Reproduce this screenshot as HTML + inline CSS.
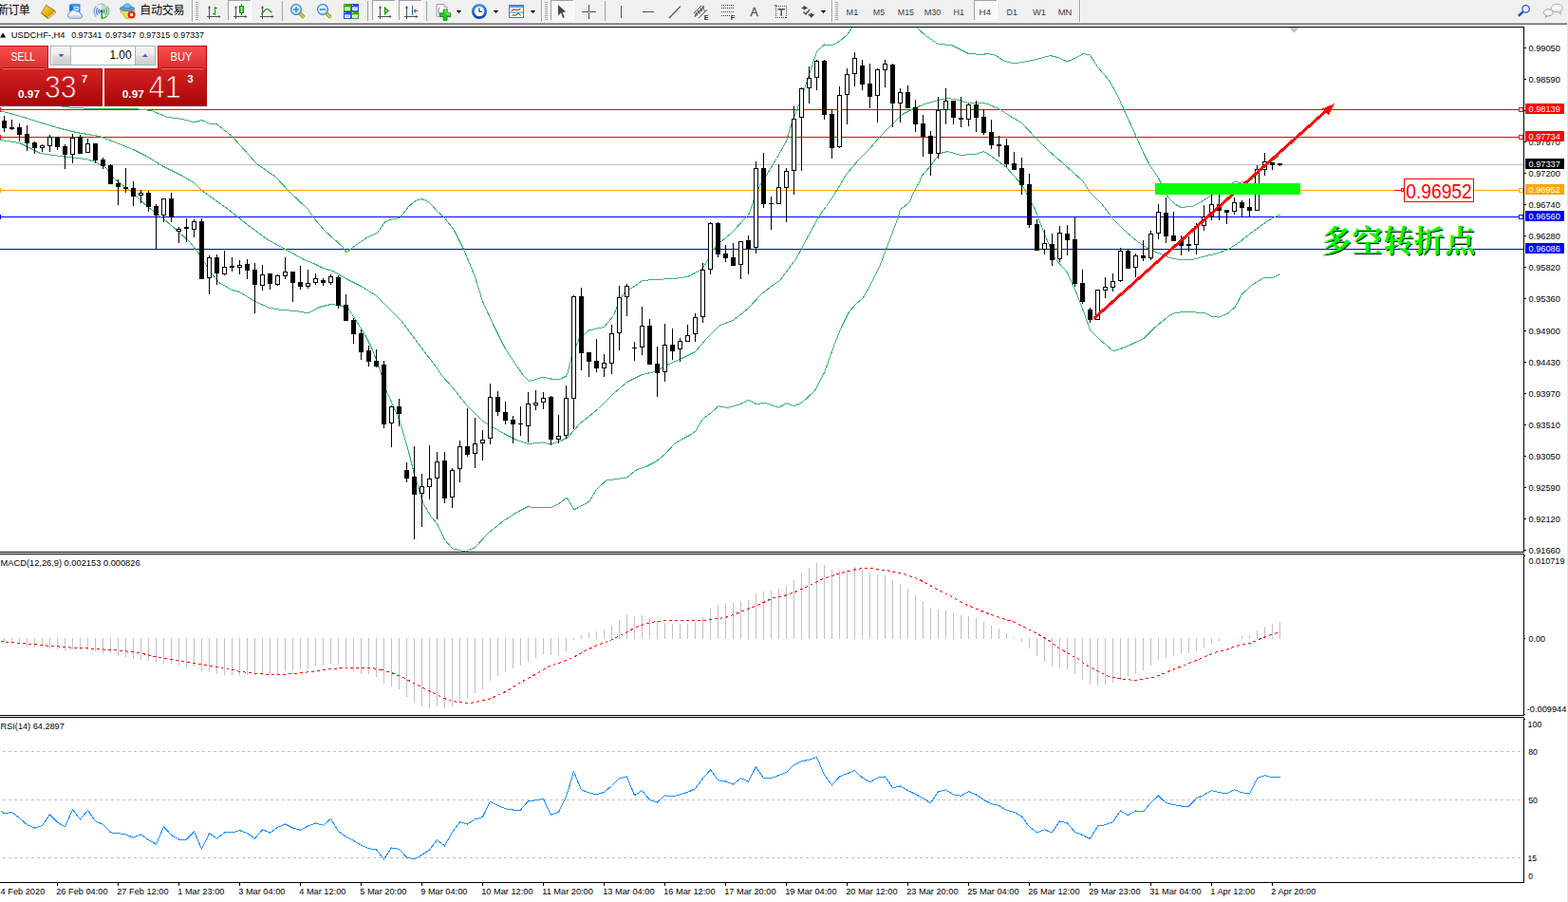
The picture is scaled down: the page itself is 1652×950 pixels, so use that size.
<!DOCTYPE html><html><head><meta charset="utf-8"><title>USDCHF H4</title><style>html,body{margin:0;padding:0;background:#fff}body{width:1652px;height:950px;overflow:hidden}svg{display:block}text{font-family:"Liberation Sans",sans-serif}</style></head><body>
<svg width="1652" height="950" viewBox="0 0 1652 950" font-family="Liberation Sans, sans-serif">
<defs>
<linearGradient id="gTop" x1="0" y1="0" x2="0" y2="1"><stop offset="0" stop-color="#f55050"/><stop offset="1" stop-color="#dd2c2c"/></linearGradient>
<linearGradient id="gBot" x1="0" y1="0" x2="0" y2="1"><stop offset="0" stop-color="#d62424"/><stop offset="1" stop-color="#a80404"/></linearGradient>
<linearGradient id="gBtn" x1="0" y1="0" x2="0" y2="1"><stop offset="0" stop-color="#f2f2f2"/><stop offset="0.45" stop-color="#ebebeb"/><stop offset="0.5" stop-color="#dddddd"/><stop offset="1" stop-color="#cfcfcf"/></linearGradient>
<pattern id="dots" width="2" height="2" patternUnits="userSpaceOnUse"><rect width="2" height="2" fill="#f0f0f0"/><rect width="1" height="1" fill="#fff"/><rect x="1" y="1" width="1" height="1" fill="#fff"/></pattern>
</defs>
<rect width="1652" height="950" fill="#fff"/>
<g shape-rendering="crispEdges">
<rect x="0" y="115" width="1605" height="1" fill="#ff0000"/>
<rect x="0" y="113" width="1" height="5" fill="#ff0000"/>
<rect x="1600.5" y="113.5" width="4" height="4" fill="#fff" stroke="#ff0000" stroke-width="1"/>
<rect x="0" y="144" width="1605" height="1" fill="#ff0000"/>
<rect x="0" y="142" width="1" height="5" fill="#ff0000"/>
<rect x="1600.5" y="142.5" width="4" height="4" fill="#fff" stroke="#ff0000" stroke-width="1"/>
<rect x="0" y="173" width="1605" height="1" fill="#c0c0c0"/>
<rect x="0" y="200" width="1605" height="1" fill="#ffa500"/>
<rect x="0" y="198" width="1" height="5" fill="#ffa500"/>
<rect x="1600.5" y="198.5" width="4" height="4" fill="#fff" stroke="#ffa500" stroke-width="1"/>
<rect x="0" y="228" width="1605" height="1" fill="#0000ff"/>
<rect x="0" y="226" width="1" height="5" fill="#0000ff"/>
<rect x="1600.5" y="226.5" width="4" height="4" fill="#fff" stroke="#0000ff" stroke-width="1"/>
<rect x="0" y="262" width="1605" height="1" fill="#0000ff"/>
</g>
<clipPath id="cMain"><rect x="0" y="29" width="1605" height="552"/></clipPath>
<g clip-path="url(#cMain)" shape-rendering="crispEdges">
<polyline points="0.5,108.5 60.5,111.5 80.5,113.9 120.5,114.5 150.5,115.1 160.5,116.9 176.5,123.5 192.5,125.5 204.5,128.9 212.5,126.5 220.5,130.1 228.5,130.9 244.5,143.5 270.5,172.5 290.5,186.5 304.5,201.5 324.5,220.5 330.5,229.5 342.5,243.5 360.5,259.5 364.9,265.9 374.5,258.5 388.5,249.1 397.5,245.5 405.5,233.9 412.5,231.1 421.5,229.5 430.5,217.5 438.5,211.1 444.5,209.5 452.5,213.1 460.5,222.5 468.5,229.5 478.5,242.5 488.5,262.5 500.5,291.5 508.5,317.5 520.5,343.5 532.5,367.5 544.5,385.5 551.5,395.5 557.5,401.5 572.5,397.1 582.5,399.5 590.5,399.1 597.5,395.5 602.5,374.5 610.5,356.5 620.5,347.9 636.5,344.5 646.5,332.5 652.5,316.5 659.5,306.5 668.5,301.5 676.5,295.5 696.5,294.1 710.5,293.5 720.5,292.0 726.0,290.9 738.3,284.4 743.1,278.5 752.0,262.5 760.2,254.0 771.1,245.1 780.5,234.8 788.9,225.9 793.0,214.3 797.1,202.0 802.5,192.5 806.5,186.5 818.5,166.5 828.5,148.5 834.5,128.5 842.5,108.5 850.5,84.5 860.5,54.5 868.5,46.9 876.5,47.9 884.5,43.5 892.5,36.5 897.5,29.5 900.5,26.5" fill="none" stroke="#3cb371" stroke-width="1" />
<polyline points="964.5,26.5 966.5,29.5 976.5,38.5 988.5,46.5 1002.5,47.5 1020.5,56.5 1034.5,57.5 1040.5,56.5 1048.5,58.1 1058.5,64.5 1068.5,66.9 1080.5,64.9 1092.5,62.5 1106.5,58.5 1114.5,60.5 1124.5,64.9 1132.5,61.5 1141.5,56.5 1148.5,58.1 1156.5,70.5 1168.5,84.5 1176.5,98.5 1184.5,116.5 1196.5,142.5 1204.5,160.5 1210.5,172.5 1220.5,187.5 1230.5,207.5 1238.5,215.5 1244.5,218.5 1256.5,217.1 1266.5,212.1 1276.5,205.5 1288.5,199.5 1300.5,191.5 1306.5,192.5 1320.5,188.5 1328.5,178.5 1336.5,172.5 1344.5,166.5 1348.5,163.5" fill="none" stroke="#3cb371" stroke-width="1" />
<polyline points="0.5,116.9 20.5,122.1 40.5,128.5 60.5,134.5 80.5,139.5 104.5,143.5 120.5,149.5 140.5,157.5 154.5,164.5 170.5,174.5 190.5,184.5 204.5,192.5 212.5,200.5 226.5,210.5 240.5,220.5 260.5,236.5 280.5,251.5 300.5,262.5 320.5,273.5 330.5,277.5 340.5,282.5 350.5,285.5 366.5,294.5 380.5,301.5 396.5,311.5 408.5,323.5 422.5,337.5 434.5,353.5 446.5,369.5 458.5,385.1 465.5,395.5 476.5,407.5 490.5,425.5 508.5,443.5 520.5,450.5 530.5,456.5 544.5,463.5 556.5,467.5 570.5,465.9 580.5,467.9 590.5,464.5 598.5,460.5 610.5,446.5 630.5,430.5 646.5,414.5 660.5,402.5 676.5,394.5 690.5,391.5 704.5,383.5 718.5,377.5 732.5,370.5 744.5,356.5 758.5,342.5 772.5,337.5 788.5,324.5 802.5,309.5 815.5,299.5 821.5,295.5 830.0,284.1 838.2,273.5 846.5,258.1 854.5,243.0 862.8,228.0 870.5,217.5 880.5,202.5 892.5,182.5 904.5,168.5 916.5,156.5 926.5,144.5 938.5,132.5 950.5,120.5 962.5,114.5 974.5,109.5 988.5,105.5 998.5,103.5 1008.5,105.1 1020.5,108.5 1034.5,108.5 1040.5,109.5 1052.5,114.5 1064.5,122.5 1076.5,129.5 1090.5,144.5 1104.5,158.5 1120.5,172.5 1140.5,190.5 1148.5,202.5 1160.5,214.5 1172.5,230.5 1186.5,244.5 1198.5,254.5 1210.5,262.5 1220.5,266.5 1232.5,271.5 1242.5,273.5 1256.5,273.5 1270.5,269.5 1280.5,267.5 1294.5,262.5 1306.5,254.5 1320.5,243.5 1334.5,233.5 1342.5,228.5 1348.5,226.1" fill="none" stroke="#3cb371" stroke-width="1" />
<polyline points="0.5,147.5 20.5,150.5 42.5,161.5 66.5,164.9 90.5,167.5 100.5,170.5 112.5,177.5 120.5,188.5 136.5,200.5 156.5,218.5 172.5,230.5 188.5,244.5 200.5,255.5 210.5,268.5 220.5,284.5 230.5,297.5 244.5,305.5 252.5,307.5 268.5,317.5 284.5,324.5 296.5,326.5 312.5,327.5 324.5,329.9 336.5,323.5 348.5,320.5 356.5,321.5 366.5,324.5 374.5,336.5 384.5,352.5 392.5,368.5 400.5,390.5 407.5,412.5 420.5,441.5 430.5,475.5 437.5,503.5 446.5,531.5 454.5,544.5 460.5,551.5 468.5,568.5 476.5,577.5 490.5,581.1 500.5,576.5 514.5,561.5 530.5,548.5 546.5,538.5 556.5,533.5 564.5,534.9 580.5,534.9 590.5,529.5 597.1,523.9 604.9,536.9 620.5,528.5 628.5,515.5 638.5,506.1 660.5,502.9 670.5,494.9 680.5,491.5 690.5,486.5 700.5,478.5 710.5,467.5 720.5,461.5 727.5,458.0 732.9,453.9 736.5,447.5 740.5,441.2 748.1,435.7 757.0,427.8 766.5,429.5 780.5,425.5 788.5,421.1 796.5,425.5 806.5,424.5 820.5,429.1 828.5,424.9 836.5,427.5 844.5,424.5 858.5,411.5 868.5,392.5 878.5,364.5 886.5,344.5 894.5,328.5 902.1,319.8 908.9,314.4 917.1,300.0 926.7,280.8 933.5,262.8 940.5,244.5 946.2,229.1 948.5,220.5 954.2,216.5 958.3,212.5 963.5,200.8 969.2,190.5 970.5,186.5 980.5,174.5 990.5,161.5 998.5,159.5 1012.5,163.5 1028.5,162.1 1036.5,159.5 1044.5,164.5 1052.5,170.5 1060.5,176.5 1076.5,194.5 1090.5,220.5 1100.5,246.5 1111.5,272.5 1124.1,286.5 1133.2,306.5 1140.5,325.0 1148.5,347.5 1158.5,357.5 1173.1,370.0 1187.5,364.9 1204.9,356.5 1216.5,345.0 1231.2,333.1 1238.5,329.2 1254.5,328.5 1269.5,329.9 1276.5,333.1 1283.9,334.1 1293.0,330.5 1301.1,323.5 1308.5,310.1 1318.5,300.5 1331.1,292.8 1341.1,292.5 1348.5,288.5" fill="none" stroke="#3cb371" stroke-width="1" />
</g>
<g shape-rendering="crispEdges">
<rect x="4" y="122" width="1" height="17" fill="#000"/>
<rect x="2" y="127" width="5" height="8" fill="#000"/>
<rect x="12" y="126" width="1" height="11" fill="#000"/>
<rect x="10" y="134" width="5" height="2" fill="#000"/>
<rect x="20" y="130" width="1" height="19" fill="#000"/>
<rect x="18" y="134" width="5" height="8" fill="#000"/>
<rect x="28" y="132" width="1" height="27" fill="#000"/>
<rect x="26" y="141" width="5" height="10" fill="#000"/>
<rect x="36" y="149" width="1" height="13" fill="#000"/>
<rect x="34" y="150" width="5" height="6" fill="#000"/>
<rect x="44" y="152" width="1" height="8" fill="#000"/>
<rect x="42" y="153" width="5" height="3" fill="#000"/><rect x="43" y="154" width="3" height="1" fill="#fff"/>
<rect x="52" y="142" width="1" height="18" fill="#000"/>
<rect x="50" y="144" width="5" height="10" fill="#000"/><rect x="51" y="145" width="3" height="8" fill="#fff"/>
<rect x="60" y="144" width="1" height="14" fill="#000"/>
<rect x="58" y="144" width="5" height="11" fill="#000"/>
<rect x="68" y="152" width="1" height="26" fill="#000"/>
<rect x="66" y="154" width="5" height="9" fill="#000"/>
<rect x="76" y="141" width="1" height="31" fill="#000"/>
<rect x="74" y="145" width="5" height="18" fill="#000"/><rect x="75" y="146" width="3" height="16" fill="#fff"/>
<rect x="84" y="142" width="1" height="20" fill="#000"/>
<rect x="82" y="144" width="5" height="18" fill="#000"/>
<rect x="92" y="146" width="1" height="15" fill="#000"/>
<rect x="90" y="151" width="5" height="10" fill="#000"/><rect x="91" y="152" width="3" height="8" fill="#fff"/>
<rect x="100" y="151" width="1" height="21" fill="#000"/>
<rect x="98" y="151" width="5" height="18" fill="#000"/>
<rect x="108" y="166" width="1" height="12" fill="#000"/>
<rect x="106" y="168" width="5" height="7" fill="#000"/>
<rect x="116" y="173" width="1" height="21" fill="#000"/>
<rect x="114" y="174" width="5" height="20" fill="#000"/>
<rect x="124" y="189" width="1" height="27" fill="#000"/>
<rect x="122" y="193" width="5" height="4" fill="#000"/>
<rect x="132" y="177" width="1" height="26" fill="#000"/>
<rect x="130" y="197" width="5" height="2" fill="#000"/>
<rect x="140" y="191" width="1" height="26" fill="#000"/>
<rect x="138" y="198" width="5" height="9" fill="#000"/>
<rect x="148" y="200" width="1" height="14" fill="#000"/>
<rect x="146" y="203" width="5" height="3" fill="#000"/><rect x="147" y="204" width="3" height="1" fill="#fff"/>
<rect x="156" y="201" width="1" height="22" fill="#000"/>
<rect x="154" y="203" width="5" height="15" fill="#000"/>
<rect x="164" y="215" width="1" height="47" fill="#000"/>
<rect x="162" y="217" width="5" height="10" fill="#000"/>
<rect x="172" y="209" width="1" height="25" fill="#000"/>
<rect x="170" y="209" width="5" height="18" fill="#000"/><rect x="171" y="210" width="3" height="16" fill="#fff"/>
<rect x="180" y="203" width="1" height="31" fill="#000"/>
<rect x="178" y="209" width="5" height="20" fill="#000"/>
<rect x="188" y="239" width="1" height="17" fill="#000"/>
<rect x="186" y="241" width="5" height="3" fill="#000"/><rect x="187" y="242" width="3" height="1" fill="#fff"/>
<rect x="196" y="230" width="1" height="25" fill="#000"/>
<rect x="194" y="239" width="5" height="2" fill="#000"/>
<rect x="204" y="231" width="1" height="19" fill="#000"/>
<rect x="202" y="233" width="5" height="9" fill="#000"/><rect x="203" y="234" width="3" height="7" fill="#fff"/>
<rect x="212" y="230" width="1" height="64" fill="#000"/>
<rect x="210" y="233" width="5" height="61" fill="#000"/>
<rect x="220" y="269" width="1" height="41" fill="#000"/>
<rect x="218" y="271" width="5" height="22" fill="#000"/><rect x="219" y="272" width="3" height="20" fill="#fff"/>
<rect x="228" y="268" width="1" height="32" fill="#000"/>
<rect x="226" y="271" width="5" height="17" fill="#000"/>
<rect x="236" y="264" width="1" height="26" fill="#000"/>
<rect x="234" y="281" width="5" height="8" fill="#000"/><rect x="235" y="282" width="3" height="6" fill="#fff"/>
<rect x="244" y="271" width="1" height="15" fill="#000"/>
<rect x="242" y="280" width="5" height="2" fill="#000"/>
<rect x="252" y="274" width="1" height="15" fill="#000"/>
<rect x="250" y="279" width="5" height="3" fill="#000"/><rect x="251" y="280" width="3" height="1" fill="#fff"/>
<rect x="260" y="273" width="1" height="21" fill="#000"/>
<rect x="258" y="278" width="5" height="7" fill="#000"/>
<rect x="268" y="277" width="1" height="53" fill="#000"/>
<rect x="266" y="284" width="5" height="16" fill="#000"/>
<rect x="276" y="279" width="1" height="27" fill="#000"/>
<rect x="274" y="289" width="5" height="12" fill="#000"/><rect x="275" y="290" width="3" height="10" fill="#fff"/>
<rect x="284" y="288" width="1" height="17" fill="#000"/>
<rect x="282" y="288" width="5" height="11" fill="#000"/>
<rect x="292" y="289" width="1" height="12" fill="#000"/>
<rect x="290" y="290" width="5" height="10" fill="#000"/><rect x="291" y="291" width="3" height="8" fill="#fff"/>
<rect x="300" y="271" width="1" height="23" fill="#000"/>
<rect x="298" y="286" width="5" height="5" fill="#000"/><rect x="299" y="287" width="3" height="3" fill="#fff"/>
<rect x="308" y="286" width="1" height="32" fill="#000"/>
<rect x="306" y="286" width="5" height="12" fill="#000"/>
<rect x="316" y="280" width="1" height="25" fill="#000"/>
<rect x="314" y="297" width="5" height="5" fill="#000"/>
<rect x="324" y="284" width="1" height="20" fill="#000"/>
<rect x="322" y="298" width="5" height="4" fill="#000"/><rect x="323" y="299" width="3" height="2" fill="#fff"/>
<rect x="332" y="288" width="1" height="12" fill="#000"/>
<rect x="330" y="293" width="5" height="5" fill="#000"/><rect x="331" y="294" width="3" height="3" fill="#fff"/>
<rect x="340" y="293" width="1" height="8" fill="#000"/>
<rect x="338" y="295" width="5" height="3" fill="#000"/>
<rect x="348" y="289" width="1" height="11" fill="#000"/>
<rect x="346" y="291" width="5" height="7" fill="#000"/><rect x="347" y="292" width="3" height="5" fill="#fff"/>
<rect x="356" y="290" width="1" height="35" fill="#000"/>
<rect x="354" y="292" width="5" height="30" fill="#000"/>
<rect x="364" y="310" width="1" height="28" fill="#000"/>
<rect x="362" y="321" width="5" height="17" fill="#000"/>
<rect x="372" y="335" width="1" height="27" fill="#000"/>
<rect x="370" y="337" width="5" height="15" fill="#000"/>
<rect x="380" y="347" width="1" height="32" fill="#000"/>
<rect x="378" y="351" width="5" height="20" fill="#000"/>
<rect x="388" y="364" width="1" height="22" fill="#000"/>
<rect x="386" y="369" width="5" height="12" fill="#000"/>
<rect x="396" y="368" width="1" height="19" fill="#000"/>
<rect x="394" y="380" width="5" height="6" fill="#000"/>
<rect x="404" y="380" width="1" height="71" fill="#000"/>
<rect x="402" y="384" width="5" height="63" fill="#000"/>
<rect x="412" y="427" width="1" height="44" fill="#000"/>
<rect x="410" y="428" width="5" height="18" fill="#000"/><rect x="411" y="429" width="3" height="16" fill="#fff"/>
<rect x="420" y="420" width="1" height="29" fill="#000"/>
<rect x="418" y="428" width="5" height="8" fill="#000"/>
<rect x="428" y="487" width="1" height="21" fill="#000"/>
<rect x="426" y="495" width="5" height="9" fill="#000"/>
<rect x="436" y="470" width="1" height="98" fill="#000"/>
<rect x="434" y="502" width="5" height="19" fill="#000"/>
<rect x="444" y="499" width="1" height="56" fill="#000"/>
<rect x="442" y="512" width="5" height="8" fill="#000"/><rect x="443" y="513" width="3" height="6" fill="#fff"/>
<rect x="452" y="469" width="1" height="57" fill="#000"/>
<rect x="450" y="504" width="5" height="9" fill="#000"/><rect x="451" y="505" width="3" height="7" fill="#fff"/>
<rect x="460" y="476" width="1" height="71" fill="#000"/>
<rect x="458" y="486" width="5" height="18" fill="#000"/><rect x="459" y="487" width="3" height="16" fill="#fff"/>
<rect x="468" y="476" width="1" height="54" fill="#000"/>
<rect x="466" y="485" width="5" height="40" fill="#000"/>
<rect x="476" y="493" width="1" height="42" fill="#000"/>
<rect x="474" y="495" width="5" height="29" fill="#000"/><rect x="475" y="496" width="3" height="27" fill="#fff"/>
<rect x="484" y="464" width="1" height="44" fill="#000"/>
<rect x="482" y="470" width="5" height="24" fill="#000"/><rect x="483" y="471" width="3" height="22" fill="#fff"/>
<rect x="492" y="430" width="1" height="51" fill="#000"/>
<rect x="490" y="470" width="5" height="9" fill="#000"/>
<rect x="500" y="440" width="1" height="53" fill="#000"/>
<rect x="498" y="467" width="5" height="11" fill="#000"/><rect x="499" y="468" width="3" height="9" fill="#fff"/>
<rect x="508" y="453" width="1" height="32" fill="#000"/>
<rect x="506" y="463" width="5" height="4" fill="#000"/><rect x="507" y="464" width="3" height="2" fill="#fff"/>
<rect x="516" y="404" width="1" height="64" fill="#000"/>
<rect x="514" y="418" width="5" height="44" fill="#000"/><rect x="515" y="419" width="3" height="42" fill="#fff"/>
<rect x="524" y="412" width="1" height="26" fill="#000"/>
<rect x="522" y="418" width="5" height="16" fill="#000"/>
<rect x="532" y="423" width="1" height="24" fill="#000"/>
<rect x="530" y="434" width="5" height="9" fill="#000"/>
<rect x="540" y="438" width="1" height="29" fill="#000"/>
<rect x="538" y="442" width="5" height="5" fill="#000"/>
<rect x="548" y="428" width="1" height="31" fill="#000"/>
<rect x="546" y="446" width="5" height="1" fill="#000"/>
<rect x="556" y="413" width="1" height="53" fill="#000"/>
<rect x="554" y="425" width="5" height="24" fill="#000"/><rect x="555" y="426" width="3" height="22" fill="#fff"/>
<rect x="564" y="411" width="1" height="21" fill="#000"/>
<rect x="562" y="424" width="5" height="3" fill="#000"/><rect x="563" y="425" width="3" height="1" fill="#fff"/>
<rect x="572" y="413" width="1" height="18" fill="#000"/>
<rect x="570" y="419" width="5" height="5" fill="#000"/><rect x="571" y="420" width="3" height="3" fill="#fff"/>
<rect x="580" y="417" width="1" height="52" fill="#000"/>
<rect x="578" y="418" width="5" height="45" fill="#000"/>
<rect x="588" y="437" width="1" height="30" fill="#000"/>
<rect x="586" y="459" width="5" height="4" fill="#000"/><rect x="587" y="460" width="3" height="2" fill="#fff"/>
<rect x="596" y="406" width="1" height="56" fill="#000"/>
<rect x="594" y="419" width="5" height="40" fill="#000"/><rect x="595" y="420" width="3" height="38" fill="#fff"/>
<rect x="604" y="311" width="1" height="141" fill="#000"/>
<rect x="602" y="312" width="5" height="108" fill="#000"/><rect x="603" y="313" width="3" height="106" fill="#fff"/>
<rect x="612" y="303" width="1" height="87" fill="#000"/>
<rect x="610" y="312" width="5" height="60" fill="#000"/>
<rect x="620" y="371" width="1" height="26" fill="#000"/>
<rect x="618" y="371" width="5" height="10" fill="#000"/>
<rect x="628" y="357" width="1" height="35" fill="#000"/>
<rect x="626" y="380" width="5" height="8" fill="#000"/>
<rect x="636" y="373" width="1" height="24" fill="#000"/>
<rect x="634" y="382" width="5" height="6" fill="#000"/><rect x="635" y="383" width="3" height="4" fill="#fff"/>
<rect x="644" y="342" width="1" height="52" fill="#000"/>
<rect x="642" y="351" width="5" height="32" fill="#000"/><rect x="643" y="352" width="3" height="30" fill="#fff"/>
<rect x="652" y="301" width="1" height="68" fill="#000"/>
<rect x="650" y="313" width="5" height="38" fill="#000"/><rect x="651" y="314" width="3" height="36" fill="#fff"/>
<rect x="660" y="299" width="1" height="34" fill="#000"/>
<rect x="658" y="301" width="5" height="12" fill="#000"/><rect x="659" y="302" width="3" height="10" fill="#fff"/>
<rect x="668" y="360" width="1" height="20" fill="#000"/>
<rect x="666" y="366" width="5" height="1" fill="#000"/>
<rect x="676" y="323" width="1" height="51" fill="#000"/>
<rect x="674" y="343" width="5" height="23" fill="#000"/><rect x="675" y="344" width="3" height="21" fill="#fff"/>
<rect x="684" y="336" width="1" height="48" fill="#000"/>
<rect x="682" y="343" width="5" height="41" fill="#000"/>
<rect x="692" y="365" width="1" height="53" fill="#000"/>
<rect x="690" y="383" width="5" height="10" fill="#000"/>
<rect x="700" y="341" width="1" height="61" fill="#000"/>
<rect x="698" y="363" width="5" height="29" fill="#000"/><rect x="699" y="364" width="3" height="27" fill="#fff"/>
<rect x="708" y="346" width="1" height="33" fill="#000"/>
<rect x="706" y="363" width="5" height="7" fill="#000"/>
<rect x="716" y="356" width="1" height="25" fill="#000"/>
<rect x="714" y="359" width="5" height="9" fill="#000"/><rect x="715" y="360" width="3" height="7" fill="#fff"/>
<rect x="724" y="342" width="1" height="18" fill="#000"/>
<rect x="722" y="353" width="5" height="7" fill="#000"/><rect x="723" y="354" width="3" height="5" fill="#fff"/>
<rect x="732" y="330" width="1" height="30" fill="#000"/>
<rect x="730" y="334" width="5" height="18" fill="#000"/><rect x="731" y="335" width="3" height="16" fill="#fff"/>
<rect x="740" y="277" width="1" height="63" fill="#000"/>
<rect x="738" y="284" width="5" height="50" fill="#000"/><rect x="739" y="285" width="3" height="48" fill="#fff"/>
<rect x="748" y="234" width="1" height="55" fill="#000"/>
<rect x="746" y="235" width="5" height="49" fill="#000"/><rect x="747" y="236" width="3" height="47" fill="#fff"/>
<rect x="756" y="234" width="1" height="37" fill="#000"/>
<rect x="754" y="235" width="5" height="33" fill="#000"/>
<rect x="764" y="258" width="1" height="18" fill="#000"/>
<rect x="762" y="267" width="5" height="5" fill="#000"/>
<rect x="772" y="256" width="1" height="24" fill="#000"/>
<rect x="770" y="271" width="5" height="9" fill="#000"/>
<rect x="780" y="254" width="1" height="40" fill="#000"/>
<rect x="778" y="254" width="5" height="25" fill="#000"/><rect x="779" y="255" width="3" height="23" fill="#fff"/>
<rect x="788" y="248" width="1" height="41" fill="#000"/>
<rect x="786" y="253" width="5" height="9" fill="#000"/>
<rect x="796" y="170" width="1" height="97" fill="#000"/>
<rect x="794" y="177" width="5" height="84" fill="#000"/><rect x="795" y="178" width="3" height="82" fill="#fff"/>
<rect x="804" y="161" width="1" height="58" fill="#000"/>
<rect x="802" y="177" width="5" height="38" fill="#000"/>
<rect x="812" y="207" width="1" height="35" fill="#000"/>
<rect x="810" y="214" width="5" height="1" fill="#000"/>
<rect x="820" y="173" width="1" height="42" fill="#000"/>
<rect x="818" y="197" width="5" height="18" fill="#000"/><rect x="819" y="198" width="3" height="16" fill="#fff"/>
<rect x="828" y="177" width="1" height="57" fill="#000"/>
<rect x="826" y="180" width="5" height="18" fill="#000"/><rect x="827" y="181" width="3" height="16" fill="#fff"/>
<rect x="836" y="112" width="1" height="93" fill="#000"/>
<rect x="834" y="125" width="5" height="55" fill="#000"/><rect x="835" y="126" width="3" height="53" fill="#fff"/>
<rect x="844" y="92" width="1" height="88" fill="#000"/>
<rect x="842" y="93" width="5" height="31" fill="#000"/><rect x="843" y="94" width="3" height="29" fill="#fff"/>
<rect x="852" y="70" width="1" height="39" fill="#000"/>
<rect x="850" y="82" width="5" height="11" fill="#000"/><rect x="851" y="83" width="3" height="9" fill="#fff"/>
<rect x="860" y="63" width="1" height="32" fill="#000"/>
<rect x="858" y="64" width="5" height="18" fill="#000"/><rect x="859" y="65" width="3" height="16" fill="#fff"/>
<rect x="868" y="63" width="1" height="63" fill="#000"/>
<rect x="866" y="64" width="5" height="57" fill="#000"/>
<rect x="876" y="115" width="1" height="52" fill="#000"/>
<rect x="874" y="120" width="5" height="36" fill="#000"/>
<rect x="884" y="91" width="1" height="65" fill="#000"/>
<rect x="882" y="100" width="5" height="55" fill="#000"/><rect x="883" y="101" width="3" height="53" fill="#fff"/>
<rect x="892" y="72" width="1" height="59" fill="#000"/>
<rect x="890" y="78" width="5" height="22" fill="#000"/><rect x="891" y="79" width="3" height="20" fill="#fff"/>
<rect x="900" y="55" width="1" height="36" fill="#000"/>
<rect x="898" y="61" width="5" height="17" fill="#000"/><rect x="899" y="62" width="3" height="15" fill="#fff"/>
<rect x="908" y="63" width="1" height="32" fill="#000"/>
<rect x="906" y="69" width="5" height="20" fill="#000"/>
<rect x="916" y="67" width="1" height="47" fill="#000"/>
<rect x="914" y="88" width="5" height="14" fill="#000"/>
<rect x="924" y="72" width="1" height="57" fill="#000"/>
<rect x="922" y="73" width="5" height="28" fill="#000"/><rect x="923" y="74" width="3" height="26" fill="#fff"/>
<rect x="932" y="63" width="1" height="29" fill="#000"/>
<rect x="930" y="67" width="5" height="7" fill="#000"/><rect x="931" y="68" width="3" height="5" fill="#fff"/>
<rect x="940" y="67" width="1" height="67" fill="#000"/>
<rect x="938" y="68" width="5" height="41" fill="#000"/>
<rect x="948" y="93" width="1" height="36" fill="#000"/>
<rect x="946" y="97" width="5" height="12" fill="#000"/><rect x="947" y="98" width="3" height="10" fill="#fff"/>
<rect x="956" y="90" width="1" height="24" fill="#000"/>
<rect x="954" y="97" width="5" height="17" fill="#000"/>
<rect x="964" y="105" width="1" height="34" fill="#000"/>
<rect x="962" y="113" width="5" height="18" fill="#000"/>
<rect x="972" y="121" width="1" height="44" fill="#000"/>
<rect x="970" y="130" width="5" height="14" fill="#000"/>
<rect x="980" y="138" width="1" height="47" fill="#000"/>
<rect x="978" y="143" width="5" height="19" fill="#000"/>
<rect x="988" y="102" width="1" height="65" fill="#000"/>
<rect x="986" y="116" width="5" height="46" fill="#000"/><rect x="987" y="117" width="3" height="44" fill="#fff"/>
<rect x="996" y="93" width="1" height="38" fill="#000"/>
<rect x="994" y="106" width="5" height="10" fill="#000"/><rect x="995" y="107" width="3" height="8" fill="#fff"/>
<rect x="1004" y="106" width="1" height="25" fill="#000"/>
<rect x="1002" y="106" width="5" height="18" fill="#000"/>
<rect x="1012" y="102" width="1" height="32" fill="#000"/>
<rect x="1010" y="124" width="5" height="2" fill="#000"/>
<rect x="1020" y="109" width="1" height="24" fill="#000"/>
<rect x="1018" y="110" width="5" height="16" fill="#000"/><rect x="1019" y="111" width="3" height="14" fill="#fff"/>
<rect x="1028" y="106" width="1" height="33" fill="#000"/>
<rect x="1026" y="110" width="5" height="14" fill="#000"/>
<rect x="1036" y="115" width="1" height="27" fill="#000"/>
<rect x="1034" y="123" width="5" height="17" fill="#000"/>
<rect x="1044" y="126" width="1" height="31" fill="#000"/>
<rect x="1042" y="139" width="5" height="14" fill="#000"/>
<rect x="1052" y="143" width="1" height="22" fill="#000"/>
<rect x="1050" y="152" width="5" height="2" fill="#000"/>
<rect x="1060" y="146" width="1" height="30" fill="#000"/>
<rect x="1058" y="153" width="5" height="20" fill="#000"/>
<rect x="1068" y="160" width="1" height="19" fill="#000"/>
<rect x="1066" y="172" width="5" height="7" fill="#000"/>
<rect x="1076" y="166" width="1" height="39" fill="#000"/>
<rect x="1074" y="177" width="5" height="18" fill="#000"/>
<rect x="1084" y="183" width="1" height="57" fill="#000"/>
<rect x="1082" y="194" width="5" height="43" fill="#000"/>
<rect x="1092" y="231" width="1" height="33" fill="#000"/>
<rect x="1090" y="236" width="5" height="28" fill="#000"/>
<rect x="1100" y="242" width="1" height="26" fill="#000"/>
<rect x="1098" y="256" width="5" height="7" fill="#000"/><rect x="1099" y="257" width="3" height="5" fill="#fff"/>
<rect x="1108" y="246" width="1" height="34" fill="#000"/>
<rect x="1106" y="257" width="5" height="17" fill="#000"/>
<rect x="1116" y="238" width="1" height="38" fill="#000"/>
<rect x="1114" y="245" width="5" height="28" fill="#000"/><rect x="1115" y="246" width="3" height="26" fill="#fff"/>
<rect x="1124" y="237" width="1" height="32" fill="#000"/>
<rect x="1122" y="246" width="5" height="7" fill="#000"/>
<rect x="1132" y="229" width="1" height="73" fill="#000"/>
<rect x="1130" y="252" width="5" height="47" fill="#000"/>
<rect x="1140" y="284" width="1" height="36" fill="#000"/>
<rect x="1138" y="298" width="5" height="20" fill="#000"/>
<rect x="1148" y="324" width="1" height="16" fill="#000"/>
<rect x="1146" y="326" width="5" height="11" fill="#000"/>
<rect x="1156" y="305" width="1" height="32" fill="#000"/>
<rect x="1154" y="305" width="5" height="32" fill="#000"/><rect x="1155" y="306" width="3" height="30" fill="#fff"/>
<rect x="1164" y="292" width="1" height="22" fill="#000"/>
<rect x="1162" y="302" width="5" height="4" fill="#000"/><rect x="1163" y="303" width="3" height="2" fill="#fff"/>
<rect x="1172" y="288" width="1" height="19" fill="#000"/>
<rect x="1170" y="296" width="5" height="7" fill="#000"/><rect x="1171" y="297" width="3" height="5" fill="#fff"/>
<rect x="1180" y="261" width="1" height="36" fill="#000"/>
<rect x="1178" y="264" width="5" height="32" fill="#000"/><rect x="1179" y="265" width="3" height="30" fill="#fff"/>
<rect x="1188" y="263" width="1" height="20" fill="#000"/>
<rect x="1186" y="264" width="5" height="19" fill="#000"/>
<rect x="1196" y="267" width="1" height="25" fill="#000"/>
<rect x="1194" y="269" width="5" height="13" fill="#000"/><rect x="1195" y="270" width="3" height="11" fill="#fff"/>
<rect x="1204" y="253" width="1" height="22" fill="#000"/>
<rect x="1202" y="269" width="5" height="3" fill="#000"/>
<rect x="1212" y="243" width="1" height="31" fill="#000"/>
<rect x="1210" y="246" width="5" height="26" fill="#000"/><rect x="1211" y="247" width="3" height="24" fill="#fff"/>
<rect x="1220" y="215" width="1" height="37" fill="#000"/>
<rect x="1218" y="223" width="5" height="23" fill="#000"/><rect x="1219" y="224" width="3" height="21" fill="#fff"/>
<rect x="1228" y="208" width="1" height="48" fill="#000"/>
<rect x="1226" y="224" width="5" height="25" fill="#000"/>
<rect x="1236" y="223" width="1" height="31" fill="#000"/>
<rect x="1234" y="248" width="5" height="6" fill="#000"/>
<rect x="1244" y="248" width="1" height="21" fill="#000"/>
<rect x="1242" y="253" width="5" height="6" fill="#000"/>
<rect x="1252" y="249" width="1" height="16" fill="#000"/>
<rect x="1250" y="257" width="5" height="2" fill="#000"/>
<rect x="1260" y="235" width="1" height="33" fill="#000"/>
<rect x="1258" y="238" width="5" height="20" fill="#000"/><rect x="1259" y="239" width="3" height="18" fill="#fff"/>
<rect x="1268" y="216" width="1" height="27" fill="#000"/>
<rect x="1266" y="228" width="5" height="10" fill="#000"/><rect x="1267" y="229" width="3" height="8" fill="#fff"/>
<rect x="1276" y="205" width="1" height="27" fill="#000"/>
<rect x="1274" y="215" width="5" height="13" fill="#000"/><rect x="1275" y="216" width="3" height="11" fill="#fff"/>
<rect x="1284" y="205" width="1" height="27" fill="#000"/>
<rect x="1282" y="215" width="5" height="7" fill="#000"/>
<rect x="1292" y="221" width="1" height="15" fill="#000"/>
<rect x="1290" y="221" width="5" height="3" fill="#000"/>
<rect x="1300" y="208" width="1" height="18" fill="#000"/>
<rect x="1298" y="213" width="5" height="10" fill="#000"/><rect x="1299" y="214" width="3" height="8" fill="#fff"/>
<rect x="1308" y="211" width="1" height="17" fill="#000"/>
<rect x="1306" y="213" width="5" height="6" fill="#000"/>
<rect x="1316" y="209" width="1" height="19" fill="#000"/>
<rect x="1314" y="218" width="5" height="4" fill="#000"/>
<rect x="1324" y="174" width="1" height="48" fill="#000"/>
<rect x="1322" y="178" width="5" height="44" fill="#000"/><rect x="1323" y="179" width="3" height="42" fill="#fff"/>
<rect x="1332" y="161" width="1" height="24" fill="#000"/>
<rect x="1330" y="170" width="5" height="9" fill="#000"/><rect x="1331" y="171" width="3" height="7" fill="#fff"/>
<rect x="1340" y="171" width="1" height="8" fill="#000"/>
<rect x="1338" y="171" width="5" height="3" fill="#000"/>
<rect x="1348" y="172" width="1" height="3" fill="#000"/>
<rect x="1346" y="172" width="5" height="2" fill="#000"/>
</g>
<g shape-rendering="crispEdges"><line x1="1152.5" y1="335.5" x2="1400" y2="114.2" stroke="#ff0000" stroke-width="3"/><polygon points="1406,109 1393.5,114.5 1399.5,121.5" fill="#ff0000"/></g>
<rect x="1217" y="193" width="153" height="12" fill="#00ff00" shape-rendering="crispEdges"/>
<g shape-rendering="crispEdges"><rect x="1469" y="200" width="8" height="1" fill="#ff0000"/><rect x="1476.5" y="198.5" width="2" height="3" fill="#fff" stroke="#ff0000" stroke-width="1"/><rect x="1479.5" y="188.5" width="73" height="24" fill="#fff" stroke="#ff0000" stroke-width="1"/></g>
<text x="1481.2" y="208.8" font-size="21.5" fill="#ff0000" textLength="69.6" lengthAdjust="spacingAndGlyphs" >0.96952</text>
<text x="1392.9 1425.55 1458.2 1490.85 1523.5" y="266.2" font-size="32" font-weight="bold" fill="#001c00" style="font-family:'Liberation Serif','Noto Serif CJK SC',serif">多空转折点</text>
<text x="1391.9 1424.55 1457.2 1489.85 1522.5" y="265.2" font-size="32" font-weight="bold" fill="#00ff00" style="font-family:'Liberation Serif','Noto Serif CJK SC',serif">多空转折点</text>
<polygon points="1358,29 1369,29 1363.5,34.5" fill="#c0c0c0"/>
<g shape-rendering="crispEdges">
<rect x="4" y="672" width="1" height="4" fill="#c0c0c0"/>
<rect x="12" y="672" width="1" height="6" fill="#c0c0c0"/>
<rect x="20" y="672" width="1" height="6" fill="#c0c0c0"/>
<rect x="28" y="672" width="1" height="9" fill="#c0c0c0"/>
<rect x="36" y="672" width="1" height="10" fill="#c0c0c0"/>
<rect x="44" y="672" width="1" height="10" fill="#c0c0c0"/>
<rect x="52" y="672" width="1" height="11" fill="#c0c0c0"/>
<rect x="60" y="672" width="1" height="12" fill="#c0c0c0"/>
<rect x="68" y="672" width="1" height="13" fill="#c0c0c0"/>
<rect x="76" y="672" width="1" height="12" fill="#c0c0c0"/>
<rect x="84" y="672" width="1" height="12" fill="#c0c0c0"/>
<rect x="92" y="672" width="1" height="13" fill="#c0c0c0"/>
<rect x="100" y="672" width="1" height="14" fill="#c0c0c0"/>
<rect x="108" y="672" width="1" height="16" fill="#c0c0c0"/>
<rect x="116" y="672" width="1" height="16" fill="#c0c0c0"/>
<rect x="124" y="672" width="1" height="19" fill="#c0c0c0"/>
<rect x="132" y="672" width="1" height="20" fill="#c0c0c0"/>
<rect x="140" y="672" width="1" height="22" fill="#c0c0c0"/>
<rect x="148" y="672" width="1" height="23" fill="#c0c0c0"/>
<rect x="156" y="672" width="1" height="24" fill="#c0c0c0"/>
<rect x="164" y="672" width="1" height="25" fill="#c0c0c0"/>
<rect x="172" y="672" width="1" height="27" fill="#c0c0c0"/>
<rect x="180" y="672" width="1" height="27" fill="#c0c0c0"/>
<rect x="188" y="672" width="1" height="29" fill="#c0c0c0"/>
<rect x="196" y="672" width="1" height="30" fill="#c0c0c0"/>
<rect x="204" y="672" width="1" height="30" fill="#c0c0c0"/>
<rect x="212" y="672" width="1" height="35" fill="#c0c0c0"/>
<rect x="220" y="672" width="1" height="36" fill="#c0c0c0"/>
<rect x="228" y="672" width="1" height="38" fill="#c0c0c0"/>
<rect x="236" y="672" width="1" height="39" fill="#c0c0c0"/>
<rect x="244" y="672" width="1" height="39" fill="#c0c0c0"/>
<rect x="252" y="672" width="1" height="39" fill="#c0c0c0"/>
<rect x="260" y="672" width="1" height="39" fill="#c0c0c0"/>
<rect x="268" y="672" width="1" height="39" fill="#c0c0c0"/>
<rect x="276" y="672" width="1" height="39" fill="#c0c0c0"/>
<rect x="284" y="672" width="1" height="39" fill="#c0c0c0"/>
<rect x="292" y="672" width="1" height="38" fill="#c0c0c0"/>
<rect x="300" y="672" width="1" height="35" fill="#c0c0c0"/>
<rect x="308" y="672" width="1" height="34" fill="#c0c0c0"/>
<rect x="316" y="672" width="1" height="33" fill="#c0c0c0"/>
<rect x="324" y="672" width="1" height="32" fill="#c0c0c0"/>
<rect x="332" y="672" width="1" height="30" fill="#c0c0c0"/>
<rect x="340" y="672" width="1" height="29" fill="#c0c0c0"/>
<rect x="348" y="672" width="1" height="27" fill="#c0c0c0"/>
<rect x="356" y="672" width="1" height="28" fill="#c0c0c0"/>
<rect x="364" y="672" width="1" height="32" fill="#c0c0c0"/>
<rect x="372" y="672" width="1" height="35" fill="#c0c0c0"/>
<rect x="380" y="672" width="1" height="38" fill="#c0c0c0"/>
<rect x="388" y="672" width="1" height="38" fill="#c0c0c0"/>
<rect x="396" y="672" width="1" height="41" fill="#c0c0c0"/>
<rect x="404" y="672" width="1" height="48" fill="#c0c0c0"/>
<rect x="412" y="672" width="1" height="51" fill="#c0c0c0"/>
<rect x="420" y="672" width="1" height="54" fill="#c0c0c0"/>
<rect x="428" y="672" width="1" height="62" fill="#c0c0c0"/>
<rect x="436" y="672" width="1" height="68" fill="#c0c0c0"/>
<rect x="444" y="672" width="1" height="72" fill="#c0c0c0"/>
<rect x="452" y="672" width="1" height="74" fill="#c0c0c0"/>
<rect x="460" y="672" width="1" height="72" fill="#c0c0c0"/>
<rect x="468" y="672" width="1" height="74" fill="#c0c0c0"/>
<rect x="476" y="672" width="1" height="72" fill="#c0c0c0"/>
<rect x="484" y="672" width="1" height="67" fill="#c0c0c0"/>
<rect x="492" y="672" width="1" height="63" fill="#c0c0c0"/>
<rect x="500" y="672" width="1" height="58" fill="#c0c0c0"/>
<rect x="508" y="672" width="1" height="54" fill="#c0c0c0"/>
<rect x="516" y="672" width="1" height="45" fill="#c0c0c0"/>
<rect x="524" y="672" width="1" height="40" fill="#c0c0c0"/>
<rect x="532" y="672" width="1" height="36" fill="#c0c0c0"/>
<rect x="540" y="672" width="1" height="32" fill="#c0c0c0"/>
<rect x="548" y="672" width="1" height="29" fill="#c0c0c0"/>
<rect x="556" y="672" width="1" height="25" fill="#c0c0c0"/>
<rect x="564" y="672" width="1" height="21" fill="#c0c0c0"/>
<rect x="572" y="672" width="1" height="17" fill="#c0c0c0"/>
<rect x="580" y="672" width="1" height="18" fill="#c0c0c0"/>
<rect x="588" y="672" width="1" height="18" fill="#c0c0c0"/>
<rect x="596" y="672" width="1" height="14" fill="#c0c0c0"/>
<rect x="604" y="672" width="1" height="2" fill="#c0c0c0"/>
<rect x="612" y="669" width="1" height="4" fill="#c0c0c0"/>
<rect x="620" y="666" width="1" height="7" fill="#c0c0c0"/>
<rect x="628" y="665" width="1" height="8" fill="#c0c0c0"/>
<rect x="636" y="663" width="1" height="10" fill="#c0c0c0"/>
<rect x="644" y="659" width="1" height="14" fill="#c0c0c0"/>
<rect x="652" y="653" width="1" height="20" fill="#c0c0c0"/>
<rect x="660" y="647" width="1" height="26" fill="#c0c0c0"/>
<rect x="668" y="649" width="1" height="24" fill="#c0c0c0"/>
<rect x="676" y="648" width="1" height="25" fill="#c0c0c0"/>
<rect x="684" y="652" width="1" height="21" fill="#c0c0c0"/>
<rect x="692" y="654" width="1" height="19" fill="#c0c0c0"/>
<rect x="700" y="656" width="1" height="17" fill="#c0c0c0"/>
<rect x="708" y="657" width="1" height="16" fill="#c0c0c0"/>
<rect x="716" y="657" width="1" height="16" fill="#c0c0c0"/>
<rect x="724" y="657" width="1" height="16" fill="#c0c0c0"/>
<rect x="732" y="655" width="1" height="18" fill="#c0c0c0"/>
<rect x="740" y="650" width="1" height="23" fill="#c0c0c0"/>
<rect x="748" y="641" width="1" height="32" fill="#c0c0c0"/>
<rect x="756" y="637" width="1" height="36" fill="#c0c0c0"/>
<rect x="764" y="635" width="1" height="38" fill="#c0c0c0"/>
<rect x="772" y="635" width="1" height="38" fill="#c0c0c0"/>
<rect x="780" y="633" width="1" height="40" fill="#c0c0c0"/>
<rect x="788" y="632" width="1" height="41" fill="#c0c0c0"/>
<rect x="796" y="625" width="1" height="48" fill="#c0c0c0"/>
<rect x="804" y="623" width="1" height="50" fill="#c0c0c0"/>
<rect x="812" y="622" width="1" height="51" fill="#c0c0c0"/>
<rect x="820" y="620" width="1" height="53" fill="#c0c0c0"/>
<rect x="828" y="617" width="1" height="56" fill="#c0c0c0"/>
<rect x="836" y="611" width="1" height="62" fill="#c0c0c0"/>
<rect x="844" y="604" width="1" height="69" fill="#c0c0c0"/>
<rect x="852" y="598" width="1" height="75" fill="#c0c0c0"/>
<rect x="860" y="593" width="1" height="80" fill="#c0c0c0"/>
<rect x="868" y="595" width="1" height="78" fill="#c0c0c0"/>
<rect x="876" y="600" width="1" height="73" fill="#c0c0c0"/>
<rect x="884" y="601" width="1" height="72" fill="#c0c0c0"/>
<rect x="892" y="600" width="1" height="73" fill="#c0c0c0"/>
<rect x="900" y="597" width="1" height="76" fill="#c0c0c0"/>
<rect x="908" y="600" width="1" height="73" fill="#c0c0c0"/>
<rect x="916" y="603" width="1" height="70" fill="#c0c0c0"/>
<rect x="924" y="605" width="1" height="68" fill="#c0c0c0"/>
<rect x="932" y="606" width="1" height="67" fill="#c0c0c0"/>
<rect x="940" y="611" width="1" height="62" fill="#c0c0c0"/>
<rect x="948" y="615" width="1" height="58" fill="#c0c0c0"/>
<rect x="956" y="620" width="1" height="53" fill="#c0c0c0"/>
<rect x="964" y="626" width="1" height="47" fill="#c0c0c0"/>
<rect x="972" y="633" width="1" height="40" fill="#c0c0c0"/>
<rect x="980" y="640" width="1" height="33" fill="#c0c0c0"/>
<rect x="988" y="642" width="1" height="31" fill="#c0c0c0"/>
<rect x="996" y="643" width="1" height="30" fill="#c0c0c0"/>
<rect x="1004" y="646" width="1" height="27" fill="#c0c0c0"/>
<rect x="1012" y="648" width="1" height="25" fill="#c0c0c0"/>
<rect x="1020" y="649" width="1" height="24" fill="#c0c0c0"/>
<rect x="1028" y="651" width="1" height="22" fill="#c0c0c0"/>
<rect x="1036" y="655" width="1" height="18" fill="#c0c0c0"/>
<rect x="1044" y="659" width="1" height="14" fill="#c0c0c0"/>
<rect x="1052" y="662" width="1" height="11" fill="#c0c0c0"/>
<rect x="1060" y="667" width="1" height="6" fill="#c0c0c0"/>
<rect x="1068" y="671" width="1" height="2" fill="#c0c0c0"/>
<rect x="1076" y="672" width="1" height="4" fill="#c0c0c0"/>
<rect x="1084" y="672" width="1" height="11" fill="#c0c0c0"/>
<rect x="1092" y="672" width="1" height="19" fill="#c0c0c0"/>
<rect x="1100" y="672" width="1" height="25" fill="#c0c0c0"/>
<rect x="1108" y="672" width="1" height="30" fill="#c0c0c0"/>
<rect x="1116" y="672" width="1" height="32" fill="#c0c0c0"/>
<rect x="1124" y="672" width="1" height="33" fill="#c0c0c0"/>
<rect x="1132" y="672" width="1" height="38" fill="#c0c0c0"/>
<rect x="1140" y="672" width="1" height="44" fill="#c0c0c0"/>
<rect x="1148" y="672" width="1" height="49" fill="#c0c0c0"/>
<rect x="1156" y="672" width="1" height="50" fill="#c0c0c0"/>
<rect x="1164" y="672" width="1" height="49" fill="#c0c0c0"/>
<rect x="1172" y="672" width="1" height="47" fill="#c0c0c0"/>
<rect x="1180" y="672" width="1" height="44" fill="#c0c0c0"/>
<rect x="1188" y="672" width="1" height="40" fill="#c0c0c0"/>
<rect x="1196" y="672" width="1" height="38" fill="#c0c0c0"/>
<rect x="1204" y="672" width="1" height="34" fill="#c0c0c0"/>
<rect x="1212" y="672" width="1" height="29" fill="#c0c0c0"/>
<rect x="1220" y="672" width="1" height="23" fill="#c0c0c0"/>
<rect x="1228" y="672" width="1" height="21" fill="#c0c0c0"/>
<rect x="1236" y="672" width="1" height="19" fill="#c0c0c0"/>
<rect x="1244" y="672" width="1" height="16" fill="#c0c0c0"/>
<rect x="1252" y="672" width="1" height="16" fill="#c0c0c0"/>
<rect x="1260" y="672" width="1" height="13" fill="#c0c0c0"/>
<rect x="1268" y="672" width="1" height="10" fill="#c0c0c0"/>
<rect x="1276" y="672" width="1" height="6" fill="#c0c0c0"/>
<rect x="1284" y="672" width="1" height="3" fill="#c0c0c0"/>
<rect x="1300" y="672" width="1" height="1" fill="#c0c0c0"/>
<rect x="1308" y="670" width="1" height="3" fill="#c0c0c0"/>
<rect x="1316" y="669" width="1" height="4" fill="#c0c0c0"/>
<rect x="1324" y="664" width="1" height="9" fill="#c0c0c0"/>
<rect x="1332" y="660" width="1" height="13" fill="#c0c0c0"/>
<rect x="1340" y="657" width="1" height="16" fill="#c0c0c0"/>
<rect x="1348" y="655" width="1" height="18" fill="#c0c0c0"/>
</g>
<polyline points="0.5,675.6 3.0,675.9 25.9,677.7 51.4,680.2 76.8,682.2 102.2,683.5 127.6,685.3 145.4,687.3 165.8,692.2 191.2,696.0 211.5,700.0 237.0,703.6 252.2,707.4 277.6,710.0 303.1,710.0 326.0,707.7 343.7,705.1 364.1,703.1 389.5,703.1 402.2,705.6 400.5,704.9 413.2,708.9 425.9,714.0 438.6,720.9 451.4,727.2 466.6,734.9 476.8,738.7 494.6,740.7 514.9,736.6 532.7,728.5 548.0,718.9 563.2,710.7 578.5,701.8 591.2,697.5 603.9,692.4 616.6,685.3 629.3,679.4 642.0,675.1 654.8,668.8 667.5,661.9 680.2,656.8 692.9,654.3 705.6,653.0 726.0,653.0 733.6,654.0 746.3,653.0 764.1,650.5 776.8,645.9 789.5,640.8 800.5,636.5 813.2,630.1 825.9,627.6 838.6,623.0 851.4,617.4 866.6,609.8 884.4,603.9 902.2,599.6 909.8,598.3 920.0,598.8 935.3,600.9 953.1,604.7 968.3,610.3 983.6,618.7 998.8,626.3 1011.5,633.9 1024.2,639.5 1042.0,646.6 1054.8,651.0 1067.5,654.8 1080.2,661.1 1092.9,667.5 1105.6,675.1 1115.8,682.7 1126.0,688.6 1136.1,694.2 1143.7,700.0 1156.5,706.9 1166.6,712.0 1181.9,715.0 1197.1,716.6 1200.5,715.8 1214.2,713.9 1227.9,708.5 1241.5,703.0 1255.2,697.5 1268.9,692.0 1279.8,687.4 1293.5,683.8 1304.5,679.7 1318.1,677.0 1329.1,672.3 1340.0,668.2 1348.2,665.5" fill="none" stroke="#ff0000" stroke-width="1" stroke-dasharray="3 3" shape-rendering="crispEdges"/>
<g shape-rendering="crispEdges">
<line x1="3" y1="791.5" x2="1605" y2="791.5" stroke="#c0c0c0" stroke-width="1" stroke-dasharray="3 3"/>
<line x1="3" y1="842.5" x2="1605" y2="842.5" stroke="#c0c0c0" stroke-width="1" stroke-dasharray="3 3"/>
<line x1="3" y1="903.5" x2="1605" y2="903.5" stroke="#c0c0c0" stroke-width="1" stroke-dasharray="3 3"/>
</g>
<polyline points="0.5,853.8 4.5,856.8 12.5,855.5 20.5,861.6 28.5,868.7 36.5,872.0 44.5,869.5 52.5,857.8 60.5,866.2 68.5,870.8 76.5,852.7 84.5,862.9 92.5,853.5 100.5,864.9 108.5,868.2 116.5,876.9 124.5,877.6 132.5,878.9 140.5,882.2 148.5,878.9 156.5,884.7 164.5,889.1 172.5,870.8 180.5,879.4 188.5,884.0 196.5,884.0 204.5,875.8 212.5,894.2 220.5,877.6 228.5,883.2 236.5,876.9 244.5,876.9 252.5,874.6 260.5,877.6 268.5,883.2 276.5,873.8 284.5,877.1 292.5,871.3 300.5,868.0 308.5,872.0 316.5,874.3 324.5,870.0 332.5,867.0 340.5,869.2 348.5,862.4 356.5,875.6 364.5,881.4 372.5,885.3 380.5,890.3 388.5,893.6 396.5,894.9 404.5,904.8 412.5,892.9 420.5,894.2 428.5,903.1 436.5,904.8 444.5,900.5 452.5,894.9 460.5,884.7 468.5,890.9 476.5,876.4 484.5,865.7 492.5,868.0 500.5,862.9 508.5,860.6 516.5,844.1 524.5,848.4 532.5,851.7 540.5,853.0 548.5,853.0 556.5,843.8 564.5,842.8 572.5,841.5 580.5,858.1 588.5,855.5 596.5,839.0 604.5,812.8 612.5,831.9 620.5,834.9 628.5,836.9 636.5,834.4 644.5,827.5 652.5,819.7 660.5,817.9 668.5,837.7 676.5,832.6 684.5,842.5 692.5,845.1 700.5,837.7 708.5,839.0 716.5,836.9 724.5,834.4 732.5,830.6 740.5,819.9 748.5,810.8 756.5,821.7 764.5,823.0 772.5,826.0 780.5,819.7 788.5,823.0 796.5,807.7 804.5,819.7 812.5,819.7 820.5,816.6 828.5,813.6 836.5,805.7 844.5,801.9 852.5,800.1 860.5,797.5 868.5,816.1 876.5,826.8 884.5,817.9 892.5,814.8 900.5,811.5 908.5,819.1 916.5,823.7 924.5,819.1 932.5,817.9 940.5,829.8 948.5,828.0 956.5,832.6 964.5,836.4 972.5,840.8 980.5,845.8 988.5,833.9 996.5,831.9 1004.5,836.9 1012.5,838.2 1020.5,833.6 1028.5,836.9 1036.5,842.5 1044.5,846.6 1052.5,848.4 1060.5,853.5 1068.5,855.3 1076.5,859.8 1084.5,870.8 1092.5,876.9 1100.5,873.8 1108.5,876.9 1116.5,864.9 1124.5,867.0 1132.5,876.4 1140.5,879.4 1148.5,883.5 1156.5,870.0 1164.5,868.7 1172.5,865.7 1180.5,854.0 1188.5,858.6 1196.5,854.0 1204.5,855.0 1212.5,845.4 1220.5,838.1 1228.5,845.7 1236.5,847.6 1244.5,849.0 1252.5,849.0 1260.5,840.8 1268.5,837.2 1276.5,832.6 1284.5,834.5 1292.5,835.9 1300.5,831.8 1308.5,834.8 1316.5,836.1 1324.5,819.7 1332.5,816.7 1340.5,818.9 1348.5,818.9" fill="none" stroke="#1e90ff" stroke-width="1" shape-rendering="crispEdges"/>
<g shape-rendering="crispEdges">
<rect x="0" y="28" width="1606" height="1" fill="#000"/>
<rect x="1605" y="28" width="1" height="902" fill="#000"/>
<rect x="0" y="581" width="1606" height="1" fill="#000"/>
<rect x="0" y="583" width="1606" height="1" fill="#000"/>
<rect x="0" y="753" width="1606" height="1" fill="#000"/>
<rect x="0" y="755" width="1606" height="1" fill="#000"/>
<rect x="0" y="929" width="1606" height="1" fill="#000"/>
<rect x="0" y="582" width="1606" height="1" fill="#fff"/><rect x="0" y="754" width="1606" height="1" fill="#fff"/>
</g>
<g shape-rendering="crispEdges">
<rect x="1606" y="50" width="2" height="1" fill="#000"/>
<rect x="1606" y="83" width="2" height="1" fill="#000"/>
<rect x="1606" y="116" width="1" height="1" fill="#000"/>
<rect x="1606" y="149" width="2" height="1" fill="#000"/>
<rect x="1606" y="182" width="2" height="1" fill="#000"/>
<rect x="1606" y="215" width="2" height="1" fill="#000"/>
<rect x="1606" y="248" width="2" height="1" fill="#000"/>
<rect x="1606" y="281" width="2" height="1" fill="#000"/>
<rect x="1606" y="314" width="2" height="1" fill="#000"/>
<rect x="1606" y="348" width="2" height="1" fill="#000"/>
<rect x="1606" y="381" width="2" height="1" fill="#000"/>
<rect x="1606" y="414" width="2" height="1" fill="#000"/>
<rect x="1606" y="447" width="2" height="1" fill="#000"/>
<rect x="1606" y="480" width="2" height="1" fill="#000"/>
<rect x="1606" y="513" width="2" height="1" fill="#000"/>
<rect x="1606" y="546" width="2" height="1" fill="#000"/>
<rect x="1606" y="579" width="2" height="1" fill="#000"/>
<rect x="1606" y="585" width="1" height="1" fill="#000"/>
<rect x="1606" y="672" width="1" height="1" fill="#000"/>
<rect x="1606" y="752" width="1" height="1" fill="#000"/>
<rect x="1606" y="757" width="1" height="1" fill="#000"/>
<rect x="60" y="930" width="1" height="3" fill="#000"/>
<rect x="124" y="930" width="1" height="3" fill="#000"/>
<rect x="188" y="930" width="1" height="3" fill="#000"/>
<rect x="252" y="930" width="1" height="3" fill="#000"/>
<rect x="316" y="930" width="1" height="3" fill="#000"/>
<rect x="380" y="930" width="1" height="3" fill="#000"/>
<rect x="444" y="930" width="1" height="3" fill="#000"/>
<rect x="508" y="930" width="1" height="3" fill="#000"/>
<rect x="572" y="930" width="1" height="3" fill="#000"/>
<rect x="636" y="930" width="1" height="3" fill="#000"/>
<rect x="700" y="930" width="1" height="3" fill="#000"/>
<rect x="764" y="930" width="1" height="3" fill="#000"/>
<rect x="828" y="930" width="1" height="3" fill="#000"/>
<rect x="892" y="930" width="1" height="3" fill="#000"/>
<rect x="956" y="930" width="1" height="3" fill="#000"/>
<rect x="1020" y="930" width="1" height="3" fill="#000"/>
<rect x="1084" y="930" width="1" height="3" fill="#000"/>
<rect x="1148" y="930" width="1" height="3" fill="#000"/>
<rect x="1212" y="930" width="1" height="3" fill="#000"/>
<rect x="1276" y="930" width="1" height="3" fill="#000"/>
<rect x="1340" y="930" width="1" height="3" fill="#000"/>
</g>
<text x="1610.5" y="53.9" font-size="9.9" fill="#000" textLength="33.4" lengthAdjust="spacingAndGlyphs" >0.99050</text>
<text x="1610.5" y="86.9" font-size="9.9" fill="#000" textLength="33.4" lengthAdjust="spacingAndGlyphs" >0.98590</text>
<text x="1610.5" y="152.9" font-size="9.9" fill="#000" textLength="33.4" lengthAdjust="spacingAndGlyphs" >0.97670</text>
<text x="1610.5" y="185.9" font-size="9.9" fill="#000" textLength="33.4" lengthAdjust="spacingAndGlyphs" >0.97200</text>
<text x="1610.5" y="218.9" font-size="9.9" fill="#000" textLength="33.4" lengthAdjust="spacingAndGlyphs" >0.96740</text>
<text x="1610.5" y="251.9" font-size="9.9" fill="#000" textLength="33.4" lengthAdjust="spacingAndGlyphs" >0.96280</text>
<text x="1610.5" y="284.9" font-size="9.9" fill="#000" textLength="33.4" lengthAdjust="spacingAndGlyphs" >0.95820</text>
<text x="1610.5" y="317.9" font-size="9.9" fill="#000" textLength="33.4" lengthAdjust="spacingAndGlyphs" >0.95360</text>
<text x="1610.5" y="351.9" font-size="9.9" fill="#000" textLength="33.4" lengthAdjust="spacingAndGlyphs" >0.94900</text>
<text x="1610.5" y="384.9" font-size="9.9" fill="#000" textLength="33.4" lengthAdjust="spacingAndGlyphs" >0.94430</text>
<text x="1610.5" y="417.9" font-size="9.9" fill="#000" textLength="33.4" lengthAdjust="spacingAndGlyphs" >0.93970</text>
<text x="1610.5" y="450.9" font-size="9.9" fill="#000" textLength="33.4" lengthAdjust="spacingAndGlyphs" >0.93510</text>
<text x="1610.5" y="483.9" font-size="9.9" fill="#000" textLength="33.4" lengthAdjust="spacingAndGlyphs" >0.93050</text>
<text x="1610.5" y="516.9" font-size="9.9" fill="#000" textLength="33.4" lengthAdjust="spacingAndGlyphs" >0.92590</text>
<text x="1610.5" y="549.9" font-size="9.9" fill="#000" textLength="33.4" lengthAdjust="spacingAndGlyphs" >0.92120</text>
<text x="1610.5" y="582.9" font-size="9.9" fill="#000" textLength="33.4" lengthAdjust="spacingAndGlyphs" >0.91660</text>
<text x="1610.5" y="593.9" font-size="9.6" fill="#000" textLength="38.0" lengthAdjust="spacingAndGlyphs" >0.010719</text>
<text x="1610.5" y="675.9" font-size="9.6" fill="#000" textLength="17.6" lengthAdjust="spacingAndGlyphs" >0.00</text>
<text x="1608.8" y="749.9" font-size="9.6" fill="#000" textLength="41.5" lengthAdjust="spacingAndGlyphs" >-0.009944</text>
<text x="1609.4" y="765.9" font-size="9.6" fill="#000" textLength="15.0" lengthAdjust="spacingAndGlyphs" >100</text>
<text x="1610.2" y="794.9" font-size="9.6" fill="#000" textLength="9.8" lengthAdjust="spacingAndGlyphs" >80</text>
<text x="1610.2" y="845.9" font-size="9.6" fill="#000" textLength="9.8" lengthAdjust="spacingAndGlyphs" >50</text>
<text x="1609.4" y="906.9" font-size="9.6" fill="#000" textLength="9.6" lengthAdjust="spacingAndGlyphs" >15</text>
<text x="1610.2" y="925.9" font-size="9.6" fill="#000" textLength="4.8" lengthAdjust="spacingAndGlyphs" >0</text>
<g shape-rendering="crispEdges">
<rect x="1607" y="109" width="41" height="11" fill="#ff0000"/>
<rect x="1607" y="138" width="41" height="11" fill="#ff0000"/>
<rect x="1607" y="194" width="41" height="11" fill="#ffa500"/>
<rect x="1607" y="222" width="41" height="11" fill="#0000ff"/>
<rect x="1607" y="256" width="41" height="11" fill="#0000ff"/>
<rect x="1607" y="167" width="41" height="11" fill="#000000"/>
</g>
<text x="1610.5" y="117.9" font-size="9.8" fill="#fff" textLength="33.4" lengthAdjust="spacingAndGlyphs" >0.98139</text>
<text x="1610.5" y="146.9" font-size="9.8" fill="#fff" textLength="33.4" lengthAdjust="spacingAndGlyphs" >0.97734</text>
<text x="1610.5" y="202.9" font-size="9.8" fill="#fff" textLength="33.4" lengthAdjust="spacingAndGlyphs" >0.96952</text>
<text x="1610.5" y="230.9" font-size="9.8" fill="#fff" textLength="33.4" lengthAdjust="spacingAndGlyphs" >0.96560</text>
<text x="1610.5" y="264.9" font-size="9.8" fill="#fff" textLength="33.4" lengthAdjust="spacingAndGlyphs" >0.96086</text>
<text x="1610.5" y="175.9" font-size="9.8" fill="#fff" textLength="33.4" lengthAdjust="spacingAndGlyphs" >0.97337</text>
<text transform="translate(0.6,942.0) scale(0.962,1)" font-size="9.6" fill="#000">4 Feb 2020</text>
<text transform="translate(59.2,942.0) scale(0.962,1)" font-size="9.6" fill="#000">26 Feb 04:00</text>
<text transform="translate(123.2,942.0) scale(0.962,1)" font-size="9.6" fill="#000">27 Feb 12:00</text>
<text transform="translate(187.2,942.0) scale(0.962,1)" font-size="9.6" fill="#000">1 Mar 23:00</text>
<text transform="translate(251.2,942.0) scale(0.962,1)" font-size="9.6" fill="#000">3 Mar 04:00</text>
<text transform="translate(315.2,942.0) scale(0.962,1)" font-size="9.6" fill="#000">4 Mar 12:00</text>
<text transform="translate(379.2,942.0) scale(0.962,1)" font-size="9.6" fill="#000">5 Mar 20:00</text>
<text transform="translate(443.2,942.0) scale(0.962,1)" font-size="9.6" fill="#000">9 Mar 04:00</text>
<text transform="translate(507.2,942.0) scale(0.962,1)" font-size="9.6" fill="#000">10 Mar 12:00</text>
<text transform="translate(571.2,942.0) scale(0.962,1)" font-size="9.6" fill="#000">11 Mar 20:00</text>
<text transform="translate(635.2,942.0) scale(0.962,1)" font-size="9.6" fill="#000">13 Mar 04:00</text>
<text transform="translate(699.2,942.0) scale(0.962,1)" font-size="9.6" fill="#000">16 Mar 12:00</text>
<text transform="translate(763.2,942.0) scale(0.962,1)" font-size="9.6" fill="#000">17 Mar 20:00</text>
<text transform="translate(827.2,942.0) scale(0.962,1)" font-size="9.6" fill="#000">19 Mar 04:00</text>
<text transform="translate(891.2,942.0) scale(0.962,1)" font-size="9.6" fill="#000">20 Mar 12:00</text>
<text transform="translate(955.2,942.0) scale(0.962,1)" font-size="9.6" fill="#000">23 Mar 20:00</text>
<text transform="translate(1019.2,942.0) scale(0.962,1)" font-size="9.6" fill="#000">25 Mar 04:00</text>
<text transform="translate(1083.2,942.0) scale(0.962,1)" font-size="9.6" fill="#000">26 Mar 12:00</text>
<text transform="translate(1147.2,942.0) scale(0.962,1)" font-size="9.6" fill="#000">29 Mar 23:00</text>
<text transform="translate(1211.2,942.0) scale(0.962,1)" font-size="9.6" fill="#000">31 Mar 04:00</text>
<text transform="translate(1275.2,942.0) scale(0.962,1)" font-size="9.6" fill="#000">1 Apr 12:00</text>
<text transform="translate(1339.2,942.0) scale(0.962,1)" font-size="9.6" fill="#000">2 Apr 20:00</text>
<text x="0.6" y="596.0" font-size="9.6" fill="#000" textLength="147.0" lengthAdjust="spacingAndGlyphs" >MACD(12,26,9) 0.002153 0.000826</text>
<text x="0.6" y="768.0" font-size="9.6" fill="#000" textLength="67.2" lengthAdjust="spacingAndGlyphs" >RSI(14) 64.2897</text>
<polygon points="0,39.4 6.2,39.4 3.1,34.4" fill="#000"/>
<text x="11.8" y="39.7" font-size="9.6" fill="#000" textLength="56.8" lengthAdjust="spacingAndGlyphs" >USDCHF-,H4</text>
<text x="75.2" y="39.7" font-size="9.6" fill="#000" textLength="32.2" lengthAdjust="spacingAndGlyphs" >0.97341</text>
<text x="111.1" y="39.7" font-size="9.6" fill="#000" textLength="32.2" lengthAdjust="spacingAndGlyphs" >0.97347</text>
<text x="146.9" y="39.7" font-size="9.6" fill="#000" textLength="32.2" lengthAdjust="spacingAndGlyphs" >0.97315</text>
<text x="182.8" y="39.7" font-size="9.6" fill="#000" textLength="32.2" lengthAdjust="spacingAndGlyphs" >0.97337</text>
<g id="oneclick"><defs><linearGradient id="gBotU" gradientUnits="userSpaceOnUse" x1="0" y1="72" x2="0" y2="112"><stop offset="0" stop-color="#d62424"/><stop offset="1" stop-color="#a80404"/></linearGradient></defs>
<rect x="0" y="48" width="218" height="64" fill="#fff"/>
<g shape-rendering="crispEdges">
<rect x="0" y="48" width="51" height="25" fill="url(#gTop)"/>
<rect x="166" y="48" width="52" height="25" fill="url(#gTop)"/>
<rect x="0" y="72" width="108" height="40" fill="url(#gBot)"/>
<rect x="110" y="72" width="108" height="40" fill="url(#gBot)"/>
<rect x="0" y="48" width="51" height="1" fill="#c81010"/><rect x="50" y="48" width="1" height="24" fill="#c81010"/>
<rect x="166" y="48" width="52" height="1" fill="#c81010"/><rect x="166" y="48" width="1" height="24" fill="#c81010"/><rect x="217" y="48" width="1" height="64" fill="#b00808"/>
<rect x="107" y="72" width="1" height="40" fill="#a00000"/><rect x="110" y="72" width="1" height="40" fill="#c01818"/>
<rect x="50" y="72" width="58" height="1" fill="#b80c0c"/><rect x="110" y="72" width="57" height="1" fill="#b80c0c"/>
<rect x="3" y="71" width="44" height="1" fill="#b01010"/><rect x="3" y="72" width="44" height="1" fill="#ee7070"/>
<rect x="170" y="71" width="44" height="1" fill="#b01010"/><rect x="170" y="72" width="44" height="1" fill="#ee7070"/>
<rect x="53.5" y="48.5" width="110" height="20" fill="#fff" stroke="#a9b1bd" stroke-width="1"/>
<rect x="55" y="50" width="19" height="18" fill="url(#gBtn)"/><rect x="74" y="49" width="1" height="20" fill="#a9b1bd"/>
<rect x="143" y="50" width="20" height="18" fill="url(#gBtn)"/><rect x="142" y="49" width="1" height="20" fill="#a9b1bd"/>
</g>
<polygon points="61.6,57 67.4,57 64.5,60.2" fill="#4858c0"/>
<polygon points="150,60 155.8,60 152.9,56.8" fill="#4858c0"/>
<text x="11.5" y="64" font-size="12" fill="#fff" textLength="25.5" lengthAdjust="spacingAndGlyphs">SELL</text>
<text x="179.5" y="64" font-size="12" fill="#fff" textLength="23" lengthAdjust="spacingAndGlyphs">BUY</text>
<text x="138.6" y="62.3" font-size="12" fill="#000" text-anchor="end" textLength="23.2" lengthAdjust="spacingAndGlyphs">1.00</text>
<text x="19" y="102.6" font-size="11" font-weight="bold" fill="#fff" textLength="23" lengthAdjust="spacingAndGlyphs">0.97</text>
<text x="47" y="102.6" font-size="32.5" fill="#fff" stroke="url(#gBotU)" stroke-width="0.9" textLength="33.5" lengthAdjust="spacingAndGlyphs">33</text>
<text x="86" y="87" font-size="11" font-weight="bold" fill="#fff">7</text>
<text x="128.8" y="102.6" font-size="11" font-weight="bold" fill="#fff" textLength="23" lengthAdjust="spacingAndGlyphs">0.97</text>
<text x="156.5" y="102.6" font-size="32.5" fill="#fff" stroke="url(#gBotU)" stroke-width="0.9" textLength="34.5" lengthAdjust="spacingAndGlyphs">41</text>
<text x="197.5" y="87" font-size="11" font-weight="bold" fill="#fff">3</text>
</g>

<g id="toolbar">
<g shape-rendering="crispEdges">
<rect x="0" y="0" width="1652" height="24" fill="#f0f0f0"/>
<rect x="0" y="23" width="1652" height="1" fill="#f6f6f6"/>
<rect x="0" y="24" width="1652" height="1" fill="#a5a5a5"/>
<rect x="0" y="25" width="1652" height="1" fill="#696969"/>
<rect x="202" y="0" width="1" height="23" fill="#a0a0a0"/>
<rect x="203" y="0" width="1" height="23" fill="#fff"/>
<rect x="206" y="2" width="3" height="1" fill="#a8a8a8"/>
<rect x="206" y="4" width="3" height="1" fill="#a8a8a8"/>
<rect x="206" y="6" width="3" height="1" fill="#a8a8a8"/>
<rect x="206" y="8" width="3" height="1" fill="#a8a8a8"/>
<rect x="206" y="10" width="3" height="1" fill="#a8a8a8"/>
<rect x="206" y="12" width="3" height="1" fill="#a8a8a8"/>
<rect x="206" y="14" width="3" height="1" fill="#a8a8a8"/>
<rect x="206" y="16" width="3" height="1" fill="#a8a8a8"/>
<rect x="206" y="18" width="3" height="1" fill="#a8a8a8"/>
<rect x="206" y="20" width="3" height="1" fill="#a8a8a8"/>
<rect x="570" y="0" width="1" height="23" fill="#a0a0a0"/>
<rect x="571" y="0" width="1" height="23" fill="#fff"/>
<rect x="574" y="2" width="3" height="1" fill="#a8a8a8"/>
<rect x="574" y="4" width="3" height="1" fill="#a8a8a8"/>
<rect x="574" y="6" width="3" height="1" fill="#a8a8a8"/>
<rect x="574" y="8" width="3" height="1" fill="#a8a8a8"/>
<rect x="574" y="10" width="3" height="1" fill="#a8a8a8"/>
<rect x="574" y="12" width="3" height="1" fill="#a8a8a8"/>
<rect x="574" y="14" width="3" height="1" fill="#a8a8a8"/>
<rect x="574" y="16" width="3" height="1" fill="#a8a8a8"/>
<rect x="574" y="18" width="3" height="1" fill="#a8a8a8"/>
<rect x="574" y="20" width="3" height="1" fill="#a8a8a8"/>
<rect x="876" y="0" width="1" height="23" fill="#a0a0a0"/>
<rect x="877" y="0" width="1" height="23" fill="#fff"/>
<rect x="880" y="2" width="3" height="1" fill="#a8a8a8"/>
<rect x="880" y="4" width="3" height="1" fill="#a8a8a8"/>
<rect x="880" y="6" width="3" height="1" fill="#a8a8a8"/>
<rect x="880" y="8" width="3" height="1" fill="#a8a8a8"/>
<rect x="880" y="10" width="3" height="1" fill="#a8a8a8"/>
<rect x="880" y="12" width="3" height="1" fill="#a8a8a8"/>
<rect x="880" y="14" width="3" height="1" fill="#a8a8a8"/>
<rect x="880" y="16" width="3" height="1" fill="#a8a8a8"/>
<rect x="880" y="18" width="3" height="1" fill="#a8a8a8"/>
<rect x="880" y="20" width="3" height="1" fill="#a8a8a8"/>
<rect x="1137" y="0" width="1" height="23" fill="#a0a0a0"/>
<rect x="1138" y="0" width="1" height="23" fill="#fff"/>
<rect x="297" y="1" width="1" height="21" fill="#a0a0a0"/>
<rect x="387" y="1" width="1" height="21" fill="#a0a0a0"/>
<rect x="449" y="1" width="1" height="21" fill="#a0a0a0"/>
<rect x="637" y="1" width="1" height="21" fill="#a0a0a0"/>
<rect x="240" y="0" width="25" height="22" fill="url(#dots)"/>
<rect x="240" y="0" width="25" height="1" fill="#a0a0a0"/><rect x="240" y="0" width="1" height="22" fill="#a0a0a0"/>
<rect x="240" y="21" width="25" height="1" fill="#fff"/><rect x="264" y="0" width="1" height="22" fill="#fff"/>
<rect x="392" y="0" width="25" height="22" fill="url(#dots)"/>
<rect x="392" y="0" width="25" height="1" fill="#a0a0a0"/><rect x="392" y="0" width="1" height="22" fill="#a0a0a0"/>
<rect x="392" y="21" width="25" height="1" fill="#fff"/><rect x="416" y="0" width="1" height="22" fill="#fff"/>
<rect x="420" y="0" width="25" height="22" fill="url(#dots)"/>
<rect x="420" y="0" width="25" height="1" fill="#a0a0a0"/><rect x="420" y="0" width="1" height="22" fill="#a0a0a0"/>
<rect x="420" y="21" width="25" height="1" fill="#fff"/><rect x="444" y="0" width="1" height="22" fill="#fff"/>
<rect x="580" y="0" width="25" height="22" fill="url(#dots)"/>
<rect x="580" y="0" width="25" height="1" fill="#a0a0a0"/><rect x="580" y="0" width="1" height="22" fill="#a0a0a0"/>
<rect x="580" y="21" width="25" height="1" fill="#fff"/><rect x="604" y="0" width="1" height="22" fill="#fff"/>
<rect x="1026" y="0" width="25" height="22" fill="url(#dots)"/>
<rect x="1026" y="0" width="25" height="1" fill="#a0a0a0"/><rect x="1026" y="0" width="1" height="22" fill="#a0a0a0"/>
<rect x="1026" y="21" width="25" height="1" fill="#fff"/><rect x="1050" y="0" width="1" height="22" fill="#fff"/>
</g>
<text x="-2.9 8.4 19.7" y="15.1" font-size="12" fill="#000" style="font-family:'Liberation Sans','Noto Sans CJK SC',sans-serif">新订单</text>
<text x="147.2 158.95 170.7 182.45" y="15.1" font-size="12" fill="#000" style="font-family:'Liberation Sans','Noto Sans CJK SC',sans-serif">自动交易</text>
<defs><linearGradient id="gGold" x1="0" y1="0" x2="1" y2="1"><stop offset="0" stop-color="#f8dc58"/><stop offset="0.5" stop-color="#e8b818"/><stop offset="1" stop-color="#b07808"/></linearGradient><linearGradient id="gBlue" x1="0" y1="0" x2="0" y2="1"><stop offset="0" stop-color="#48a8f8"/><stop offset="1" stop-color="#1070d8"/></linearGradient><radialGradient id="gLens" cx="0.4" cy="0.35" r="0.7"><stop offset="0" stop-color="#f4fcff"/><stop offset="1" stop-color="#b8e0f8"/></radialGradient><linearGradient id="gGreen" x1="0" y1="0" x2="1" y2="0"><stop offset="0" stop-color="#20c020"/><stop offset="0.5" stop-color="#90f890"/><stop offset="1" stop-color="#20c020"/></linearGradient><linearGradient id="gBub" x1="0" y1="0" x2="0" y2="1"><stop offset="0" stop-color="#ffffff"/><stop offset="0.55" stop-color="#f4f4f6"/><stop offset="1" stop-color="#c8c8d0"/></linearGradient><linearGradient id="gClock" x1="0" y1="0" x2="0" y2="1"><stop offset="0" stop-color="#3898f0"/><stop offset="1" stop-color="#0848a0"/></linearGradient></defs>
<polygon points="48.6,5 58.6,11.6 59,13.4 51,20 49.6,19.6 43,14" fill="#a87010"/>
<polygon points="48.6,5.4 58,11.7 50.2,18.4 43.6,13.6" fill="url(#gGold)" stroke="#a8720c" stroke-width="0.6"/>
<polygon points="50.2,18.4 58,11.7 58.6,13.2 51,19.4" fill="#f0dca0"/>
<polygon points="73.4,5 76.5,4.2 84.2,4.6 84.2,12.5 76.5,13.5 73.4,11.5" fill="url(#gBlue)" stroke="#1860c0" stroke-width="0.5"/>
<polygon points="73.4,5 76.5,6 76.5,13.5 73.4,11.5" fill="#1478e0"/>
<rect x="77.5" y="7" width="5.6" height="4.6" fill="#d8ecff"/><rect x="78.4" y="8.2" width="3.6" height="1" fill="#2878d0"/>
<path d="M73.6,19.2 a3,3 0 0 1 0.2,-5.8 a3.6,3.6 0 0 1 6.6,-1.2 a2.8,2.8 0 0 1 4,2 a2.6,2.6 0 0 1 0.4,5 z" fill="#eef3fb" stroke="#5878b0" stroke-width="0.9"/>
<path d="M73,17.2 h13" stroke="#c8d4e8" stroke-width="1.6" fill="none"/>
<path d="M107,12 L107,4 A8,8 0 0 1 112.6,17.6 Z" fill="#9fd0a8" opacity="0.55"/><path d="M107,12 L112.6,17.6 A8,8 0 0 1 107,20 Z" fill="#b8dcc0" opacity="0.5"/>
<g fill="none" stroke-width="1.2"><path d="M104.9,14.1 a3,3 0 0 1 0,-4.2" stroke="#3060d0"/><path d="M103.1,15.9 a5.5,5.5 0 0 1 0,-7.8" stroke="#4878d8"/><path d="M101.4,17.6 a8,8 0 0 1 0,-11.2" stroke="#7898e0"/><path d="M109.1,9.9 a3,3 0 0 1 0,4.2" stroke="#58a070"/><path d="M110.9,8.1 a5.5,5.5 0 0 1 0,7.8" stroke="#68a880"/><path d="M112.6,6.4 a8,8 0 0 1 0,11.2" stroke="#88b898"/><path d="M103,5.1 a8,8 0 0 1 8,0" stroke="#a0b8e0" stroke-width="1"/></g>
<circle cx="107" cy="11.8" r="1.5" fill="#2050c0"/><rect x="106.5" y="12.4" width="1.4" height="7.4" fill="#18a018"/><path d="M107.6,19.4 q3,-0.2 4.6,-2.2" stroke="#30a838" stroke-width="1.2" fill="none"/>
<polygon points="126.6,11.4 141.6,10.4 137,19 132.6,19.4" fill="#f8dc50" stroke="#c89c18" stroke-width="0.7"/>
<ellipse cx="134" cy="9" rx="7.8" ry="2.4" fill="#58a8d8" stroke="#2c78a8" stroke-width="0.7"/>
<path d="M130,8.6 q0,-4.6 4,-4.6 q4,0 4,4.6 z" fill="#70c0e8" stroke="#2c78a8" stroke-width="0.7"/>
<circle cx="138.6" cy="15.6" r="4" fill="#d82010"/><circle cx="138.6" cy="15.6" r="3.3" fill="#e83020"/><rect x="137.2" y="14.2" width="2.8" height="2.8" fill="#fff"/>
<g shape-rendering="crispEdges" fill="#505050"><rect x="220" y="7" width="1" height="13"/><rect x="218" y="17" width="13" height="1"/></g>
<polygon points="218.9,8.6 220.5,6 222.1,8.6" fill="#505050"/><polygon points="230.2,16 232.6,17.5 230.2,19" fill="#505050"/>
<g shape-rendering="crispEdges" fill="#505050"><rect x="248" y="7" width="1" height="13"/><rect x="246" y="17" width="13" height="1"/></g>
<polygon points="246.9,8.6 248.5,6 250.1,8.6" fill="#505050"/><polygon points="258.2,16 260.6,17.5 258.2,19" fill="#505050"/>
<g shape-rendering="crispEdges" fill="#505050"><rect x="276" y="7" width="1" height="13"/><rect x="274" y="17" width="13" height="1"/></g>
<polygon points="274.9,8.6 276.5,6 278.1,8.6" fill="#505050"/><polygon points="286.2,16 288.6,17.5 286.2,19" fill="#505050"/>
<g shape-rendering="crispEdges" fill="#505050"><rect x="400" y="7" width="1" height="13"/><rect x="398" y="17" width="13" height="1"/></g>
<polygon points="398.9,8.6 400.5,6 402.1,8.6" fill="#505050"/><polygon points="410.2,16 412.6,17.5 410.2,19" fill="#505050"/>
<g shape-rendering="crispEdges" fill="#505050"><rect x="428" y="7" width="1" height="13"/><rect x="426" y="17" width="13" height="1"/></g>
<polygon points="426.9,8.6 428.5,6 430.1,8.6" fill="#505050"/><polygon points="438.2,16 440.6,17.5 438.2,19" fill="#505050"/>
<g shape-rendering="crispEdges" fill="#109010"><rect x="226" y="7" width="1.4" height="9"/><rect x="227" y="8" width="2" height="1"/><rect x="224" y="14" width="2" height="1"/></g>
<rect x="254" y="4" width="1" height="12" fill="#109010" shape-rendering="crispEdges"/><rect x="252.5" y="6.5" width="4" height="7" fill="url(#gGreen)" stroke="#109010" stroke-width="1"/>
<path d="M275.4,14.6 C277.5,13.6 279,9.4 281.2,9.4 C283,9.4 284.4,12.4 286.6,13" fill="none" stroke="#189018" stroke-width="1.2"/>
<line x1="316.2" y1="14.4" x2="320.4" y2="18.4" stroke="#987808" stroke-width="3.6" stroke-linecap="butt"/>
<line x1="316.4" y1="14.6" x2="320.2" y2="18.2" stroke="#f0cc30" stroke-width="2.2" stroke-linecap="butt"/>
<circle cx="312.0" cy="10" r="5.4" fill="url(#gLens)" stroke="#2878c8" stroke-width="1.2"/>
<rect x="309.0" y="9.2" width="6" height="1.6" fill="#3090b0"/>
<rect x="311.2" y="7" width="1.6" height="6" fill="#3090b0"/>
<line x1="344.2" y1="14.4" x2="348.4" y2="18.4" stroke="#987808" stroke-width="3.6" stroke-linecap="butt"/>
<line x1="344.4" y1="14.6" x2="348.2" y2="18.2" stroke="#f0cc30" stroke-width="2.2" stroke-linecap="butt"/>
<circle cx="340.0" cy="10" r="5.4" fill="url(#gLens)" stroke="#2878c8" stroke-width="1.2"/>
<rect x="337.0" y="9.2" width="6" height="1.6" fill="#3090b0"/>
<rect x="362" y="4" width="8" height="8" fill="#38a018"/><rect x="363.2" y="7.4" width="5.6" height="3.6" fill="#fff"/><rect x="364.2" y="8.6" width="3.6" height="0.9" fill="#38a018" opacity="0.55"/><rect x="363.0" y="5.0" width="1" height="1" fill="#fff" opacity="0.8"/>
<rect x="370" y="4" width="8" height="8" fill="#2050d0"/><rect x="371.2" y="7.4" width="5.6" height="3.6" fill="#fff"/><rect x="372.2" y="8.6" width="3.6" height="0.9" fill="#2050d0" opacity="0.55"/><rect x="371.0" y="5.0" width="1" height="1" fill="#fff" opacity="0.8"/>
<rect x="362" y="12" width="8" height="8" fill="#2050d0"/><rect x="363.2" y="15.4" width="5.6" height="3.6" fill="#fff"/><rect x="364.2" y="16.6" width="3.6" height="0.9" fill="#2050d0" opacity="0.55"/><rect x="363.0" y="13.0" width="1" height="1" fill="#fff" opacity="0.8"/>
<rect x="370" y="12" width="8" height="8" fill="#38a018"/><rect x="371.2" y="15.4" width="5.6" height="3.6" fill="#fff"/><rect x="372.2" y="16.6" width="3.6" height="0.9" fill="#38a018" opacity="0.55"/><rect x="371.0" y="13.0" width="1" height="1" fill="#fff" opacity="0.8"/>
<polygon points="405.4,8 409.2,11.5 405.4,15" fill="#80e080" stroke="#109810" stroke-width="1.1"/>
<rect x="434" y="6" width="1" height="10" fill="#1070b0" shape-rendering="crispEdges"/><polygon points="435.4,11.5 438.4,9 438,11 440.4,11 440.4,12 438,12 438.4,14" fill="#e04000"/>
<path d="M460,4.6 h8 l3,3 v9.6 h-11 z" fill="#fafafa" stroke="#909090" stroke-width="0.9"/><path d="M468,4.6 v3 h3" fill="#e0e0e0" stroke="#909090" stroke-width="0.7"/><path d="M463.4,8 q-1.2,0 -1.2,1.4 v4 q0,1.4 1.2,1.4" fill="none" stroke="#707070" stroke-width="0.8"/>
<path d="M467.2,10 h3.8 v3.8 h3.8 v3.8 h-3.8 v3.8 h-3.8 v-3.8 h-3.8 v-3.8 h3.8 z" fill="#28cc28" stroke="#108010" stroke-width="0.9"/><path d="M468,11 h2.2 v3.6 h3.6 v1" fill="none" stroke="#a0f8a0" stroke-width="0.9"/>
<polygon points="480.8,11 486.2,11 483.5,14" fill="#000"/>
<polygon points="519.8,11 525.2,11 522.5,14" fill="#000"/>
<polygon points="558.8,11 564.2,11 561.5,14" fill="#000"/>
<polygon points="864.8,11 870.2,11 867.5,14" fill="#000"/>
<circle cx="505" cy="12" r="6.7" fill="#fff" stroke="url(#gClock)" stroke-width="2.7"/><circle cx="505" cy="12" r="4.6" fill="none" stroke="#b0b8c8" stroke-width="0.9" stroke-dasharray="0.8 1.6"/><path d="M505,8.4 v3.8 h3" fill="none" stroke="#202020" stroke-width="1.1"/>
<rect x="536.5" y="5.5" width="15" height="13" fill="#fff" stroke="#3878c8" stroke-width="1"/><rect x="537" y="6" width="14" height="2" fill="#5898e0"/><rect x="537" y="12.6" width="14" height="0.9" fill="#3878c8"/>
<path d="M538.6,11 l1.6,0 l1.6,-1.4 l1.6,0.6 l1.6,0.4 l1.6,-0.4 l1.8,-1" fill="none" stroke="#a02808" stroke-width="1.1"/><path d="M539.6,16.6 l1.6,-0.8 l1.6,0.6 l2,-1.6 l1.4,-0.6 l1.2,1 l1.2,1.2" fill="none" stroke="#108828" stroke-width="1.1"/>
<polygon points="588,5 588,16.4 591,13.6 593.2,19 594.8,18.3 592.6,13 596.2,12.4" fill="#484848"/>
<g shape-rendering="crispEdges" fill="#505050"><rect x="613" y="12" width="7" height="1"/><rect x="621" y="12" width="7" height="1"/><rect x="620" y="5" width="1" height="7"/><rect x="620" y="13" width="1" height="7"/>
<rect x="654" y="6" width="1" height="13"/><rect x="677" y="12" width="12" height="1"/></g>
<line x1="705" y1="19" x2="717" y2="6.7" stroke="#505050" stroke-width="1.2"/>
<g stroke="#484848" stroke-width="1" fill="none"><line x1="731" y1="13.8" x2="739.2" y2="5.8"/><line x1="736.2" y1="19" x2="745" y2="10.2"/><path d="M732,18 l1.4,-4.6 l0.8,3 l1.6,-5.4 l0.8,3.2 l1.8,-5.6 l0.8,3.2 l1.8,-5.6 l0.4,3.6 l1.6,2"/></g>
<text x="741.8" y="20.8" font-size="7" font-weight="bold" fill="#303030">E</text>
<rect x="760" y="5" width="1" height="1" fill="#404040" shape-rendering="crispEdges"/>
<rect x="762" y="5" width="1" height="1" fill="#404040" shape-rendering="crispEdges"/>
<rect x="764" y="5" width="1" height="1" fill="#404040" shape-rendering="crispEdges"/>
<rect x="766" y="5" width="1" height="1" fill="#404040" shape-rendering="crispEdges"/>
<rect x="768" y="5" width="1" height="1" fill="#404040" shape-rendering="crispEdges"/>
<rect x="770" y="5" width="1" height="1" fill="#404040" shape-rendering="crispEdges"/>
<rect x="772" y="5" width="1" height="1" fill="#404040" shape-rendering="crispEdges"/>
<rect x="760" y="8" width="1" height="1" fill="#404040" shape-rendering="crispEdges"/>
<rect x="762" y="8" width="1" height="1" fill="#404040" shape-rendering="crispEdges"/>
<rect x="764" y="8" width="1" height="1" fill="#404040" shape-rendering="crispEdges"/>
<rect x="766" y="8" width="1" height="1" fill="#404040" shape-rendering="crispEdges"/>
<rect x="768" y="8" width="1" height="1" fill="#404040" shape-rendering="crispEdges"/>
<rect x="770" y="8" width="1" height="1" fill="#404040" shape-rendering="crispEdges"/>
<rect x="772" y="8" width="1" height="1" fill="#404040" shape-rendering="crispEdges"/>
<rect x="760" y="12" width="1" height="1" fill="#404040" shape-rendering="crispEdges"/>
<rect x="762" y="12" width="1" height="1" fill="#404040" shape-rendering="crispEdges"/>
<rect x="764" y="12" width="1" height="1" fill="#404040" shape-rendering="crispEdges"/>
<rect x="766" y="12" width="1" height="1" fill="#404040" shape-rendering="crispEdges"/>
<rect x="768" y="12" width="1" height="1" fill="#404040" shape-rendering="crispEdges"/>
<rect x="770" y="12" width="1" height="1" fill="#404040" shape-rendering="crispEdges"/>
<rect x="772" y="12" width="1" height="1" fill="#404040" shape-rendering="crispEdges"/>
<rect x="760" y="16" width="1" height="1" fill="#404040" shape-rendering="crispEdges"/>
<rect x="762" y="16" width="1" height="1" fill="#404040" shape-rendering="crispEdges"/>
<rect x="764" y="16" width="1" height="1" fill="#404040" shape-rendering="crispEdges"/>
<rect x="766" y="16" width="1" height="1" fill="#404040" shape-rendering="crispEdges"/>
<rect x="768" y="16" width="1" height="1" fill="#404040" shape-rendering="crispEdges"/>
<text x="769.8" y="20.8" font-size="7" font-weight="bold" fill="#303030">F</text>
<text x="790.4" y="16.8" font-size="12.4" fill="#505050" stroke="#505050" stroke-width="0.3">A</text>
<rect x="817.5" y="6.5" width="11" height="12" fill="none" stroke="#404040" stroke-width="1" stroke-dasharray="1 1" shape-rendering="crispEdges"/><rect x="816" y="5.4" width="2.4" height="1.2" fill="#404040"/>
<path d="M819.4,9.8 h7.6 M823.2,9.4 v7.4" stroke="#505050" stroke-width="1.5" fill="none"/>
<polygon points="847.6,6 851.4,9 849.6,9 847.6,10.6 845.6,9 844,9" fill="#484848"/><polygon points="851.2,15 858.2,15 854.8,19" fill="#484848"/><rect x="853.6" y="14" width="2.4" height="1.4" fill="#484848"/><path d="M846.4,12.6 l2.6,2.4 l4,-5" fill="none" stroke="#484848" stroke-width="1.3"/>
<text x="891.6" y="15.9" font-size="9.6" fill="#3c3c3c" textLength="12.6" lengthAdjust="spacingAndGlyphs">M1</text>
<text x="919.8" y="15.9" font-size="9.6" fill="#3c3c3c" textLength="12.4" lengthAdjust="spacingAndGlyphs">M5</text>
<text x="945.8" y="15.9" font-size="9.6" fill="#3c3c3c" textLength="17.2" lengthAdjust="spacingAndGlyphs">M15</text>
<text x="973.7" y="15.9" font-size="9.6" fill="#3c3c3c" textLength="17.7" lengthAdjust="spacingAndGlyphs">M30</text>
<text x="1004.6" y="15.9" font-size="9.6" fill="#3c3c3c" textLength="11.4" lengthAdjust="spacingAndGlyphs">H1</text>
<text x="1031.4" y="15.9" font-size="9.6" fill="#3c3c3c" textLength="12.5" lengthAdjust="spacingAndGlyphs">H4</text>
<text x="1060.5" y="15.9" font-size="9.6" fill="#3c3c3c" textLength="11.5" lengthAdjust="spacingAndGlyphs">D1</text>
<text x="1088.0" y="15.9" font-size="9.6" fill="#3c3c3c" textLength="14.0" lengthAdjust="spacingAndGlyphs">W1</text>
<text x="1114.7" y="15.9" font-size="9.6" fill="#3c3c3c" textLength="14.8" lengthAdjust="spacingAndGlyphs">MN</text>
<line x1="1604.6" y1="12.4" x2="1599.8" y2="16.9" stroke="#2050c8" stroke-width="2.6"/><circle cx="1607.6" cy="9.4" r="3.7" fill="#f4f6fc" stroke="#2858d0" stroke-width="1.3"/>
<path d="M1634.2,8.4 a6.2,4.2 0 1 1 9.6,3.6 l0.6,2.8 l-2.6,-2.2 a6.2,4.2 0 0 1 -7.6,-4.2 z" fill="url(#gBub)" stroke="#a0a0a0" stroke-width="0.9"/>
<path d="M1626.4,13.4 a4.9,3.5 0 1 1 4.4,3.4 l-2.4,1.8 l0.4,-2.4 a4.9,3.5 0 0 1 -2.4,-2.8 z" fill="url(#gBub)" stroke="#989898" stroke-width="0.9"/>
</g>
<rect x="1651" y="24" width="1" height="926" fill="#dfe6ee"/>
</svg></body></html>
